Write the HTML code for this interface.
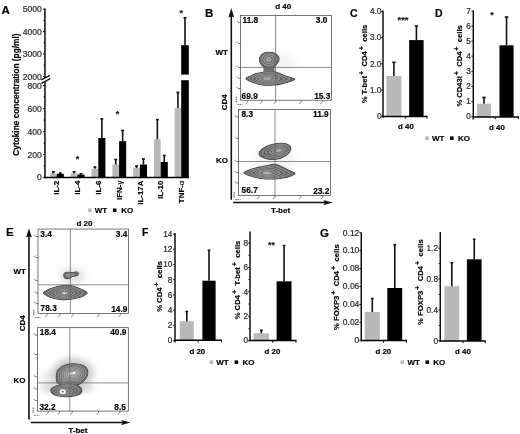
<!DOCTYPE html>
<html><head><meta charset="utf-8"><title>Figure</title>
<style>
html,body{margin:0;padding:0;background:#fff;}
body{width:520px;height:434px;overflow:hidden;font-family:"Liberation Sans",sans-serif;}
svg{display:block;font-family:"Liberation Sans",sans-serif;}
</style></head><body>
<svg width="520" height="434" viewBox="0 0 520 434">
 <defs><filter id="soft" x="0" y="0" width="520" height="434" filterUnits="userSpaceOnUse"><feGaussianBlur stdDeviation="0.2"/></filter><filter id="bl" x="-30%" y="-30%" width="160%" height="160%"><feGaussianBlur stdDeviation="3"/></filter></defs>
<rect x="0" y="0" width="520" height="434" fill="#fff"/>
<g filter="url(#soft)">
<ellipse cx="278" cy="64" rx="18" ry="11" fill="#a8a8a8" opacity="0.12" filter="url(#bl)"/>
<path d="M268.50 52.30C270.50 52.30 273.25 52.65 275.00 53.60C276.75 54.55 278.67 56.35 279.00 58.00C279.33 59.65 278.17 61.92 277.00 63.50C275.83 65.08 274.00 66.83 272.00 67.50C270.00 68.17 266.90 68.17 265.00 67.50C263.10 66.83 261.50 65.12 260.60 63.50C259.70 61.88 259.20 59.45 259.60 57.80C260.00 56.15 261.52 54.52 263.00 53.60C264.48 52.68 266.50 52.30 268.50 52.30Z" fill="#6c6c6c" stroke="#3a3a3a" stroke-width="1.1" stroke-linejoin="round"/><path d="M246.00 78.21C246.00 77.29 249.02 76.81 250.63 76.09C252.24 75.36 253.85 74.48 255.65 73.87C257.45 73.26 259.38 72.82 261.44 72.42C263.50 72.02 265.83 71.57 268.00 71.46C270.17 71.34 272.54 71.41 274.47 71.75C276.40 72.08 277.76 72.76 279.58 73.48C281.40 74.21 283.44 75.36 285.37 76.09C287.30 76.81 289.60 77.29 291.16 77.82C292.72 78.36 294.97 78.64 294.73 79.27C294.49 79.90 291.76 80.86 289.71 81.59C287.67 82.31 285.13 83.04 282.48 83.61C279.82 84.19 276.69 84.80 273.79 85.06C270.90 85.32 267.76 85.34 265.11 85.16C262.45 84.98 260.28 84.60 257.87 84.00C255.46 83.41 252.61 82.55 250.63 81.59C248.65 80.62 246.00 79.13 246.00 78.21Z" fill="#6c6c6c" stroke="#3a3a3a" stroke-width="1.1" stroke-linejoin="round"/><path d="M268.50 52.30C270.50 52.30 273.25 52.65 275.00 53.60C276.75 54.55 278.67 56.35 279.00 58.00C279.33 59.65 278.17 61.92 277.00 63.50C275.83 65.08 274.00 66.83 272.00 67.50C270.00 68.17 266.90 68.17 265.00 67.50C263.10 66.83 261.50 65.12 260.60 63.50C259.70 61.88 259.20 59.45 259.60 57.80C260.00 56.15 261.52 54.52 263.00 53.60C264.48 52.68 266.50 52.30 268.50 52.30Z" fill="#6c6c6c"/><path d="M246.00 78.21C246.00 77.29 249.02 76.81 250.63 76.09C252.24 75.36 253.85 74.48 255.65 73.87C257.45 73.26 259.38 72.82 261.44 72.42C263.50 72.02 265.83 71.57 268.00 71.46C270.17 71.34 272.54 71.41 274.47 71.75C276.40 72.08 277.76 72.76 279.58 73.48C281.40 74.21 283.44 75.36 285.37 76.09C287.30 76.81 289.60 77.29 291.16 77.82C292.72 78.36 294.97 78.64 294.73 79.27C294.49 79.90 291.76 80.86 289.71 81.59C287.67 82.31 285.13 83.04 282.48 83.61C279.82 84.19 276.69 84.80 273.79 85.06C270.90 85.32 267.76 85.34 265.11 85.16C262.45 84.98 260.28 84.60 257.87 84.00C255.46 83.41 252.61 82.55 250.63 81.59C248.65 80.62 246.00 79.13 246.00 78.21Z" fill="#6c6c6c"/><rect x="263.5" y="65" width="11" height="9" fill="#6c6c6c"/><path d="M268.52 54.07C270.02 54.07 272.09 54.34 273.40 55.05C274.71 55.76 276.15 57.11 276.40 58.35C276.65 59.59 275.77 61.29 274.90 62.48C274.02 63.66 272.65 64.97 271.15 65.47C269.65 65.97 267.32 65.97 265.90 65.47C264.47 64.97 263.28 63.69 262.60 62.48C261.93 61.26 261.55 59.44 261.85 58.20C262.15 56.96 263.29 55.74 264.40 55.05C265.51 54.36 267.02 54.07 268.52 54.07Z" fill="#808080" stroke="#b8b8b8" stroke-width="0.55"/><path d="M268.54 54.96C269.79 54.96 271.51 55.18 272.60 55.77C273.69 56.37 274.89 57.49 275.10 58.52C275.31 59.56 274.58 60.97 273.85 61.96C273.12 62.95 271.98 64.05 270.73 64.46C269.48 64.88 267.54 64.88 266.35 64.46C265.16 64.05 264.16 62.97 263.60 61.96C263.04 60.95 262.73 59.43 262.98 58.40C263.23 57.37 264.17 56.35 265.10 55.77C266.03 55.20 267.29 54.96 268.54 54.96Z" fill="none" stroke="#4a4a4a" stroke-width="0.45"/><path d="M268.55 55.85C269.55 55.85 270.93 56.02 271.80 56.50C272.68 56.98 273.63 57.88 273.80 58.70C273.97 59.53 273.38 60.66 272.80 61.45C272.22 62.24 271.30 63.12 270.30 63.45C269.30 63.78 267.75 63.78 266.80 63.45C265.85 63.12 265.05 62.26 264.60 61.45C264.15 60.64 263.90 59.42 264.10 58.60C264.30 57.77 265.06 56.96 265.80 56.50C266.54 56.04 267.55 55.85 268.55 55.85Z" fill="#808080" stroke="#b8b8b8" stroke-width="0.55"/><path d="M268.56 56.74C269.31 56.74 270.34 56.87 271.00 57.23C271.66 57.58 272.38 58.26 272.50 58.88C272.62 59.49 272.19 60.34 271.75 60.94C271.31 61.53 270.62 62.19 269.88 62.44C269.12 62.69 267.96 62.69 267.25 62.44C266.54 62.19 265.94 61.54 265.60 60.94C265.26 60.33 265.08 59.42 265.23 58.80C265.38 58.18 265.94 57.57 266.50 57.23C267.06 56.88 267.81 56.74 268.56 56.74Z" fill="none" stroke="#4a4a4a" stroke-width="0.45"/><path d="M268.58 57.62C269.08 57.62 269.76 57.71 270.20 57.95C270.64 58.19 271.12 58.64 271.20 59.05C271.28 59.46 270.99 60.03 270.70 60.42C270.41 60.82 269.95 61.26 269.45 61.42C268.95 61.59 268.18 61.59 267.70 61.42C267.23 61.26 266.83 60.83 266.60 60.42C266.38 60.02 266.25 59.41 266.35 59.00C266.45 58.59 266.83 58.18 267.20 57.95C267.57 57.72 268.08 57.62 268.58 57.62Z" fill="#999" stroke="#b8b8b8" stroke-width="0.55"/><path d="M249.04 78.27C249.01 77.46 251.23 77.01 252.60 76.39C253.97 75.76 255.64 75.03 257.27 74.53C258.90 74.04 260.61 73.72 262.38 73.43C264.14 73.13 266.06 72.84 267.85 72.76C269.65 72.69 271.50 72.74 273.14 73.00C274.77 73.25 276.03 73.71 277.66 74.28C279.29 74.85 281.34 75.81 282.92 76.43C284.50 77.04 286.05 77.50 287.14 77.95C288.24 78.41 289.71 78.63 289.49 79.14C289.26 79.66 287.38 80.46 285.79 81.07C284.19 81.67 282.12 82.30 279.93 82.78C277.74 83.26 275.07 83.74 272.66 83.95C270.24 84.16 267.69 84.18 265.46 84.05C263.23 83.92 261.38 83.66 259.27 83.19C257.16 82.71 254.48 82.02 252.78 81.20C251.07 80.38 249.07 79.07 249.04 78.27Z" fill="none" stroke="#b8b8b8" stroke-width="0.55"/><path d="M250.63 78.30C250.59 77.56 252.46 77.12 253.71 76.55C254.96 75.99 256.60 75.32 258.13 74.88C259.65 74.45 261.24 74.18 262.85 73.94C264.46 73.69 266.18 73.45 267.78 73.40C269.39 73.34 271.01 73.39 272.49 73.61C273.97 73.82 275.15 74.18 276.67 74.68C278.19 75.18 280.20 76.05 281.61 76.61C283.02 77.16 284.25 77.61 285.14 78.02C286.03 78.43 287.18 78.62 286.96 79.08C286.75 79.55 285.23 80.26 283.85 80.81C282.47 81.36 280.62 81.93 278.66 82.36C276.70 82.79 274.26 83.21 272.09 83.40C269.92 83.59 267.65 83.60 265.64 83.50C263.62 83.39 261.94 83.19 260.00 82.77C258.05 82.35 255.50 81.74 253.94 80.99C252.38 80.25 250.67 79.04 250.63 78.30Z" fill="none" stroke="#4a4a4a" stroke-width="0.45"/><path d="M252.27 78.33C252.23 77.65 253.77 77.25 254.89 76.73C256.01 76.22 257.61 75.63 259.01 75.25C260.42 74.86 261.88 74.65 263.33 74.44C264.78 74.24 266.29 74.06 267.71 74.02C269.13 73.98 270.53 74.03 271.86 74.21C273.19 74.38 274.28 74.66 275.68 75.10C277.07 75.53 279.00 76.30 280.24 76.80C281.48 77.30 282.42 77.71 283.14 78.08C283.85 78.46 284.71 78.61 284.51 79.02C284.30 79.43 283.12 80.07 281.93 80.56C280.74 81.04 279.12 81.56 277.38 81.94C275.65 82.33 273.46 82.68 271.54 82.85C269.61 83.02 267.61 83.03 265.81 82.95C264.01 82.86 262.51 82.70 260.74 82.34C258.96 81.98 256.58 81.44 255.17 80.77C253.76 80.10 252.32 79.00 252.27 78.33Z" fill="none" stroke="#b8b8b8" stroke-width="0.55"/><path d="M253.97 78.36C253.91 77.75 255.16 77.38 256.15 76.92C257.15 76.47 258.65 75.95 259.93 75.62C261.20 75.29 262.52 75.12 263.80 74.96C265.09 74.79 266.41 74.66 267.64 74.64C268.88 74.61 270.06 74.65 271.23 74.79C272.41 74.94 273.40 75.15 274.67 75.51C275.93 75.88 277.73 76.56 278.81 76.99C279.89 77.43 280.59 77.82 281.14 78.15C281.69 78.48 282.30 78.61 282.11 78.96C281.93 79.32 281.03 79.88 280.03 80.30C279.03 80.73 277.62 81.19 276.11 81.52C274.60 81.86 272.67 82.16 270.98 82.31C269.29 82.45 267.57 82.47 265.99 82.40C264.40 82.33 263.08 82.21 261.49 81.90C259.90 81.59 257.71 81.13 256.46 80.54C255.20 79.95 254.02 78.96 253.97 78.36Z" fill="none" stroke="#4a4a4a" stroke-width="0.45"/><path d="M255.71 78.39C255.66 77.86 256.63 77.52 257.49 77.13C258.36 76.73 259.75 76.29 260.88 76.01C262.01 75.73 263.17 75.60 264.28 75.47C265.40 75.34 266.52 75.25 267.58 75.24C268.63 75.22 269.61 75.25 270.62 75.37C271.63 75.49 272.52 75.63 273.64 75.94C274.76 76.24 276.41 76.82 277.33 77.20C278.24 77.58 278.73 77.93 279.14 78.21C279.55 78.50 279.95 78.60 279.79 78.91C279.62 79.21 278.97 79.69 278.14 80.05C277.32 80.42 276.12 80.82 274.84 81.11C273.55 81.39 271.88 81.64 270.43 81.77C268.98 81.89 267.52 81.90 266.16 81.85C264.80 81.80 263.65 81.72 262.26 81.46C260.87 81.20 258.90 80.81 257.81 80.29C256.72 79.78 255.76 78.92 255.71 78.39Z" fill="#808080" stroke="#b8b8b8" stroke-width="0.55"/><path d="M257.50 78.42C257.45 77.97 258.19 77.68 258.91 77.34C259.64 77.01 260.88 76.64 261.85 76.41C262.83 76.18 263.82 76.08 264.76 75.99C265.71 75.89 266.63 75.84 267.51 75.83C268.39 75.82 269.18 75.85 270.02 75.94C270.87 76.03 271.64 76.12 272.60 76.37C273.56 76.61 275.03 77.09 275.78 77.41C276.54 77.73 276.85 78.04 277.14 78.28C277.43 78.52 277.67 78.60 277.52 78.85C277.38 79.11 276.94 79.50 276.28 79.80C275.62 80.11 274.63 80.45 273.56 80.69C272.50 80.93 271.09 81.13 269.88 81.23C268.68 81.33 267.47 81.34 266.34 81.31C265.20 81.27 264.23 81.22 263.05 81.00C261.86 80.79 260.14 80.47 259.22 80.04C258.29 79.61 257.55 78.87 257.50 78.42Z" fill="none" stroke="#4a4a4a" stroke-width="0.45"/><path d="M259.34 78.46C259.29 78.09 259.83 77.84 260.41 77.57C261.00 77.30 262.06 77.00 262.86 76.82C263.67 76.65 264.48 76.57 265.25 76.50C266.01 76.44 266.75 76.41 267.45 76.41C268.14 76.40 268.75 76.42 269.44 76.49C270.12 76.56 270.76 76.61 271.55 76.80C272.34 76.99 273.58 77.38 274.18 77.63C274.78 77.89 274.96 78.15 275.15 78.34C275.34 78.54 275.45 78.60 275.33 78.80C275.21 79.00 274.93 79.31 274.43 79.56C273.92 79.80 273.14 80.08 272.29 80.27C271.44 80.46 270.30 80.62 269.34 80.70C268.38 80.78 267.42 80.79 266.51 80.76C265.59 80.74 264.82 80.71 263.85 80.54C262.88 80.38 261.44 80.12 260.69 79.77C259.94 79.43 259.39 78.82 259.34 78.46Z" fill="#808080" stroke="#b8b8b8" stroke-width="0.55"/><path d="M261.23 78.49C261.19 78.21 261.55 78.02 261.99 77.81C262.44 77.60 263.28 77.38 263.90 77.25C264.52 77.12 265.15 77.07 265.73 77.03C266.31 76.98 266.86 76.97 267.38 76.97C267.90 76.97 268.34 76.99 268.86 77.03C269.38 77.08 269.87 77.10 270.48 77.24C271.09 77.38 272.08 77.67 272.52 77.86C272.97 78.06 273.05 78.26 273.16 78.41C273.27 78.55 273.29 78.59 273.20 78.75C273.10 78.90 272.96 79.13 272.59 79.32C272.23 79.50 271.65 79.71 271.02 79.85C270.39 80.00 269.52 80.11 268.80 80.17C268.08 80.23 267.37 80.24 266.68 80.22C265.99 80.20 265.40 80.19 264.66 80.07C263.92 79.95 262.80 79.76 262.23 79.50C261.66 79.23 261.27 78.77 261.23 78.49Z" fill="none" stroke="#4a4a4a" stroke-width="0.45"/><path d="M263.21 78.53C263.18 78.34 263.41 78.21 263.71 78.07C264.01 77.93 264.58 77.78 264.99 77.70C265.41 77.61 265.83 77.58 266.22 77.55C266.61 77.52 266.97 77.52 267.32 77.52C267.67 77.52 267.96 77.53 268.30 77.56C268.65 77.59 268.98 77.60 269.39 77.69C269.80 77.79 270.47 77.98 270.76 78.11C271.06 78.24 271.10 78.37 271.17 78.47C271.24 78.57 271.25 78.60 271.18 78.70C271.12 78.80 271.03 78.95 270.79 79.08C270.55 79.20 270.17 79.34 269.75 79.44C269.32 79.53 268.75 79.60 268.26 79.64C267.78 79.68 267.32 79.69 266.86 79.68C266.40 79.67 266.00 79.66 265.50 79.58C265.01 79.50 264.25 79.38 263.87 79.20C263.49 79.02 263.24 78.71 263.21 78.53Z" fill="#a5a5a5" stroke="#b8b8b8" stroke-width="0.55"/>
<ellipse cx="276" cy="160" rx="20" ry="12" fill="#a8a8a8" opacity="0.15" filter="url(#bl)"/>
<path d="M259.20 154.20C258.87 152.57 260.87 150.10 263.00 148.50C265.13 146.90 268.87 145.48 272.00 144.60C275.13 143.72 279.05 143.13 281.80 143.20C284.55 143.27 287.03 143.93 288.50 145.00C289.97 146.07 291.02 147.85 290.60 149.60C290.18 151.35 288.55 153.88 286.00 155.50C283.45 157.12 278.80 158.83 275.30 159.30C271.80 159.77 267.68 159.15 265.00 158.30C262.32 157.45 259.53 155.83 259.20 154.20Z" fill="#6c6c6c" stroke="#3a3a3a" stroke-width="1.1" stroke-linejoin="round"/><path d="M243.97 172.69C244.10 171.90 246.79 171.10 248.60 170.38C250.42 169.65 252.54 168.99 254.88 168.35C257.21 167.71 260.14 167.08 262.60 166.52C265.06 165.95 267.69 165.36 269.64 164.97C271.59 164.59 272.71 164.12 274.27 164.20C275.83 164.28 277.31 164.81 279.00 165.46C280.69 166.10 282.46 167.11 284.40 168.06C286.35 169.01 288.91 170.25 290.68 171.15C292.45 172.05 295.02 172.68 295.02 173.47C295.02 174.25 292.70 175.14 290.68 175.88C288.65 176.62 285.72 177.39 282.86 177.90C280.00 178.42 276.62 178.84 273.50 178.97C270.38 179.09 267.24 178.98 264.14 178.68C261.04 178.37 257.59 177.73 254.88 177.13C252.16 176.54 249.65 175.85 247.83 175.11C246.01 174.37 243.84 173.48 243.97 172.69Z" fill="#6c6c6c" stroke="#3a3a3a" stroke-width="1.1" stroke-linejoin="round"/><path d="M259.20 154.20C258.87 152.57 260.87 150.10 263.00 148.50C265.13 146.90 268.87 145.48 272.00 144.60C275.13 143.72 279.05 143.13 281.80 143.20C284.55 143.27 287.03 143.93 288.50 145.00C289.97 146.07 291.02 147.85 290.60 149.60C290.18 151.35 288.55 153.88 286.00 155.50C283.45 157.12 278.80 158.83 275.30 159.30C271.80 159.77 267.68 159.15 265.00 158.30C262.32 157.45 259.53 155.83 259.20 154.20Z" fill="#6c6c6c"/><path d="M243.97 172.69C244.10 171.90 246.79 171.10 248.60 170.38C250.42 169.65 252.54 168.99 254.88 168.35C257.21 167.71 260.14 167.08 262.60 166.52C265.06 165.95 267.69 165.36 269.64 164.97C271.59 164.59 272.71 164.12 274.27 164.20C275.83 164.28 277.31 164.81 279.00 165.46C280.69 166.10 282.46 167.11 284.40 168.06C286.35 169.01 288.91 170.25 290.68 171.15C292.45 172.05 295.02 172.68 295.02 173.47C295.02 174.25 292.70 175.14 290.68 175.88C288.65 176.62 285.72 177.39 282.86 177.90C280.00 178.42 276.62 178.84 273.50 178.97C270.38 179.09 267.24 178.98 264.14 178.68C261.04 178.37 257.59 177.73 254.88 177.13C252.16 176.54 249.65 175.85 247.83 175.11C246.01 174.37 243.84 173.48 243.97 172.69Z" fill="#6c6c6c"/><path d="M262.58 153.57C262.31 152.21 263.97 150.15 265.75 148.82C267.53 147.48 270.64 146.30 273.25 145.57C275.86 144.83 279.12 144.34 281.42 144.40C283.71 144.46 285.78 145.01 287.00 145.90C288.22 146.79 289.10 148.27 288.75 149.73C288.40 151.19 287.04 153.30 284.92 154.65C282.79 156.00 278.92 157.43 276.00 157.82C273.08 158.21 269.65 157.69 267.42 156.98C265.18 156.28 262.86 154.93 262.58 153.57Z" fill="none" stroke="#b8b8b8" stroke-width="0.55"/><path d="M264.27 153.25C264.02 152.03 265.52 150.17 267.12 148.97C268.73 147.78 271.52 146.71 273.88 146.05C276.23 145.39 279.16 144.95 281.23 145.00C283.29 145.05 285.15 145.55 286.25 146.35C287.35 147.15 288.14 148.49 287.83 149.80C287.51 151.11 286.29 153.01 284.38 154.22C282.46 155.44 278.98 156.73 276.35 157.08C273.73 157.43 270.64 156.96 268.62 156.33C266.61 155.69 264.52 154.47 264.27 153.25Z" fill="none" stroke="#4a4a4a" stroke-width="0.45"/><path d="M265.97 152.93C265.74 151.84 267.08 150.20 268.50 149.13C269.92 148.07 272.41 147.12 274.50 146.53C276.59 145.94 279.20 145.56 281.03 145.60C282.87 145.64 284.52 146.09 285.50 146.80C286.48 147.51 287.18 148.70 286.90 149.87C286.62 151.03 285.53 152.72 283.83 153.80C282.13 154.88 279.03 156.02 276.70 156.33C274.37 156.64 271.62 156.23 269.83 155.67C268.04 155.10 266.19 154.02 265.97 152.93Z" fill="none" stroke="#b8b8b8" stroke-width="0.55"/><path d="M267.66 152.62C267.46 151.66 268.63 150.22 269.88 149.29C271.12 148.36 273.30 147.53 275.12 147.02C276.95 146.50 279.24 146.16 280.84 146.20C282.45 146.24 283.89 146.63 284.75 147.25C285.61 147.87 286.22 148.91 285.98 149.93C285.73 150.95 284.78 152.43 283.29 153.38C281.80 154.32 279.09 155.32 277.05 155.59C275.01 155.86 272.61 155.50 271.04 155.01C269.48 154.51 267.85 153.57 267.66 152.62Z" fill="none" stroke="#4a4a4a" stroke-width="0.45"/><path d="M269.35 152.30C269.18 151.48 270.18 150.25 271.25 149.45C272.32 148.65 274.18 147.94 275.75 147.50C277.32 147.06 279.27 146.77 280.65 146.80C282.02 146.83 283.27 147.17 284.00 147.70C284.73 148.23 285.26 149.12 285.05 150.00C284.84 150.88 284.02 152.14 282.75 152.95C281.48 153.76 279.15 154.62 277.40 154.85C275.65 155.08 273.59 154.78 272.25 154.35C270.91 153.93 269.52 153.12 269.35 152.30Z" fill="#808080" stroke="#b8b8b8" stroke-width="0.55"/><path d="M271.04 151.98C270.90 151.30 271.74 150.28 272.62 149.61C273.51 148.94 275.07 148.35 276.38 147.98C277.68 147.62 279.31 147.37 280.46 147.40C281.60 147.43 282.64 147.71 283.25 148.15C283.86 148.59 284.30 149.34 284.12 150.07C283.95 150.80 283.27 151.85 282.21 152.53C281.15 153.20 279.21 153.91 277.75 154.11C276.29 154.30 274.58 154.05 273.46 153.69C272.34 153.34 271.18 152.66 271.04 151.98Z" fill="none" stroke="#4a4a4a" stroke-width="0.45"/><path d="M272.73 151.67C272.62 151.12 273.29 150.30 274.00 149.77C274.71 149.23 275.96 148.76 277.00 148.47C278.04 148.17 279.35 147.98 280.27 148.00C281.18 148.02 282.01 148.24 282.50 148.60C282.99 148.96 283.34 149.55 283.20 150.13C283.06 150.72 282.52 151.56 281.67 152.10C280.82 152.64 279.27 153.21 278.10 153.37C276.93 153.52 275.56 153.32 274.67 153.03C273.77 152.75 272.84 152.21 272.73 151.67Z" fill="#808080" stroke="#b8b8b8" stroke-width="0.55"/><path d="M274.43 151.35C274.34 150.94 274.84 150.33 275.38 149.93C275.91 149.53 276.84 149.17 277.62 148.95C278.41 148.73 279.39 148.58 280.07 148.60C280.76 148.62 281.38 148.78 281.75 149.05C282.12 149.32 282.38 149.76 282.27 150.20C282.17 150.64 281.76 151.27 281.12 151.68C280.49 152.08 279.32 152.51 278.45 152.62C277.57 152.74 276.55 152.59 275.88 152.38C275.20 152.16 274.51 151.76 274.43 151.35Z" fill="none" stroke="#4a4a4a" stroke-width="0.45"/><path d="M276.12 151.03C276.06 150.76 276.39 150.35 276.75 150.08C277.11 149.82 277.73 149.58 278.25 149.43C278.77 149.29 279.43 149.19 279.88 149.20C280.34 149.21 280.76 149.32 281.00 149.50C281.24 149.68 281.42 149.98 281.35 150.27C281.28 150.56 281.01 150.98 280.58 151.25C280.16 151.52 279.38 151.81 278.80 151.88C278.22 151.96 277.53 151.86 277.08 151.72C276.64 151.57 276.17 151.31 276.12 151.03Z" fill="#a5a5a5" stroke="#b8b8b8" stroke-width="0.55"/><path d="M247.56 172.74C247.68 172.06 249.57 171.35 251.06 170.72C252.55 170.09 254.44 169.48 256.49 168.95C258.53 168.42 261.21 167.94 263.33 167.53C265.45 167.12 267.61 166.75 269.20 166.50C270.78 166.25 271.57 165.95 272.83 166.02C274.09 166.09 275.27 166.44 276.74 166.92C278.20 167.39 279.91 168.11 281.61 168.87C283.30 169.62 285.52 170.70 286.90 171.45C288.29 172.20 289.94 172.72 289.90 173.38C289.87 174.04 288.27 174.76 286.69 175.39C285.12 176.01 282.80 176.69 280.46 177.15C278.11 177.60 275.26 177.97 272.61 178.11C269.96 178.24 267.26 178.19 264.54 177.95C261.82 177.71 258.64 177.18 256.28 176.66C253.92 176.14 251.83 175.48 250.38 174.83C248.93 174.18 247.45 173.42 247.56 172.74Z" fill="none" stroke="#b8b8b8" stroke-width="0.55"/><path d="M249.40 172.76C249.51 172.14 251.06 171.49 252.39 170.91C253.71 170.33 255.47 169.76 257.36 169.28C259.25 168.80 261.77 168.39 263.71 168.05C265.64 167.71 267.57 167.43 268.98 167.24C270.39 167.04 271.04 166.82 272.15 166.88C273.26 166.94 274.31 167.22 275.65 167.62C276.99 168.01 278.64 168.61 280.20 169.27C281.76 169.94 283.80 170.92 285.00 171.60C286.20 172.28 287.46 172.75 287.42 173.34C287.37 173.93 286.08 174.57 284.71 175.14C283.35 175.71 281.32 176.34 279.23 176.76C277.13 177.18 274.55 177.52 272.14 177.66C269.73 177.79 267.27 177.77 264.76 177.56C262.25 177.35 259.25 176.88 257.09 176.40C254.92 175.92 253.04 175.29 251.76 174.68C250.48 174.08 249.30 173.39 249.40 172.76Z" fill="none" stroke="#4a4a4a" stroke-width="0.45"/><path d="M251.27 172.79C251.37 172.22 252.61 171.63 253.78 171.10C254.95 170.58 256.56 170.05 258.28 169.62C260.00 169.20 262.34 168.85 264.09 168.57C265.83 168.29 267.54 168.10 268.77 167.95C270.01 167.81 270.53 167.64 271.50 167.70C272.47 167.76 273.38 167.96 274.60 168.29C275.81 168.63 277.38 169.11 278.79 169.68C280.20 170.26 282.05 171.15 283.08 171.75C284.11 172.35 285.04 172.77 284.98 173.30C284.92 173.82 283.91 174.39 282.74 174.90C281.58 175.41 279.82 175.98 277.98 176.36C276.13 176.75 273.82 177.07 271.66 177.20C269.50 177.32 267.28 177.32 264.99 177.14C262.71 176.96 259.92 176.54 257.96 176.11C255.99 175.67 254.32 175.08 253.21 174.52C252.09 173.97 251.18 173.36 251.27 172.79Z" fill="none" stroke="#b8b8b8" stroke-width="0.55"/><path d="M253.17 172.81C253.26 172.31 254.23 171.78 255.24 171.31C256.25 170.84 257.71 170.35 259.25 169.99C260.78 169.62 262.92 169.32 264.47 169.10C266.02 168.88 267.50 168.75 268.57 168.65C269.64 168.55 270.04 168.44 270.88 168.49C271.71 168.54 272.49 168.69 273.57 168.95C274.66 169.22 276.11 169.60 277.37 170.09C278.64 170.58 280.28 171.38 281.15 171.90C282.02 172.43 282.66 172.80 282.60 173.26C282.53 173.72 281.76 174.21 280.78 174.66C279.80 175.11 278.31 175.62 276.71 175.96C275.10 176.31 273.08 176.60 271.17 176.72C269.25 176.84 267.28 176.86 265.24 176.70C263.19 176.55 260.64 176.19 258.89 175.80C257.14 175.41 255.68 174.86 254.73 174.36C253.77 173.86 253.09 173.32 253.17 172.81Z" fill="none" stroke="#4a4a4a" stroke-width="0.45"/><path d="M255.10 172.84C255.18 172.40 255.90 171.93 256.76 171.52C257.62 171.11 258.91 170.68 260.26 170.36C261.61 170.05 263.51 169.81 264.86 169.64C266.21 169.46 267.47 169.39 268.37 169.33C269.27 169.26 269.58 169.19 270.28 169.24C270.98 169.28 271.64 169.38 272.58 169.59C273.53 169.80 274.85 170.09 275.95 170.50C277.05 170.91 278.49 171.60 279.21 172.06C279.93 172.51 280.32 172.82 280.26 173.22C280.20 173.61 279.64 174.03 278.83 174.42C278.02 174.81 276.78 175.26 275.42 175.56C274.06 175.86 272.31 176.11 270.66 176.23C269.00 176.34 267.29 176.37 265.50 176.24C263.70 176.11 261.42 175.81 259.89 175.46C258.36 175.12 257.11 174.63 256.31 174.19C255.52 173.75 255.03 173.28 255.10 172.84Z" fill="#808080" stroke="#b8b8b8" stroke-width="0.55"/><path d="M257.06 172.87C257.12 172.49 257.65 172.10 258.35 171.75C259.06 171.39 260.17 171.02 261.32 170.76C262.47 170.50 264.11 170.31 265.25 170.18C266.40 170.05 267.44 170.02 268.18 169.99C268.92 169.95 269.14 169.92 269.71 169.95C270.29 169.99 270.82 170.05 271.62 170.21C272.43 170.37 273.58 170.58 274.52 170.91C275.46 171.25 276.68 171.83 277.26 172.21C277.83 172.59 278.04 172.85 277.98 173.18C277.91 173.51 277.53 173.85 276.89 174.18C276.24 174.51 275.24 174.89 274.11 175.15C272.99 175.40 271.52 175.62 270.13 175.72C268.74 175.83 267.29 175.86 265.77 175.76C264.24 175.65 262.26 175.40 260.96 175.11C259.66 174.82 258.62 174.38 257.97 174.01C257.32 173.64 257.00 173.24 257.06 172.87Z" fill="none" stroke="#4a4a4a" stroke-width="0.45"/><path d="M259.05 172.89C259.10 172.58 259.45 172.26 260.01 171.98C260.57 171.69 261.48 171.38 262.42 171.17C263.36 170.97 264.72 170.82 265.65 170.73C266.58 170.64 267.40 170.64 267.99 170.63C268.58 170.61 268.72 170.60 269.17 170.63C269.63 170.67 270.04 170.69 270.70 170.81C271.35 170.93 272.32 171.07 273.09 171.33C273.85 171.59 274.85 172.07 275.29 172.37C275.73 172.67 275.80 172.88 275.74 173.14C275.68 173.40 275.44 173.68 274.95 173.94C274.46 174.21 273.68 174.52 272.79 174.73C271.90 174.94 270.72 175.12 269.59 175.21C268.47 175.29 267.30 175.33 266.05 175.25C264.80 175.17 263.15 174.97 262.10 174.73C261.04 174.49 260.21 174.13 259.70 173.82C259.19 173.52 259.00 173.20 259.05 172.89Z" fill="#808080" stroke="#b8b8b8" stroke-width="0.55"/><path d="M261.07 172.92C261.11 172.68 261.32 172.44 261.74 172.22C262.15 172.00 262.85 171.76 263.57 171.60C264.29 171.45 265.35 171.35 266.06 171.29C266.76 171.23 267.38 171.25 267.81 171.25C268.24 171.25 268.33 171.26 268.66 171.28C269.00 171.30 269.30 171.31 269.80 171.39C270.30 171.47 271.06 171.55 271.65 171.74C272.23 171.93 272.99 172.30 273.31 172.52C273.63 172.75 273.60 172.91 273.56 173.10C273.51 173.30 273.38 173.50 273.02 173.70C272.67 173.90 272.11 174.14 271.44 174.31C270.78 174.47 269.89 174.61 269.04 174.68C268.19 174.74 267.30 174.78 266.34 174.72C265.38 174.66 264.11 174.51 263.30 174.33C262.49 174.15 261.87 173.86 261.49 173.63C261.12 173.39 261.03 173.15 261.07 172.92Z" fill="none" stroke="#4a4a4a" stroke-width="0.45"/><path d="M263.14 172.95C263.16 172.79 263.30 172.62 263.57 172.48C263.85 172.33 264.32 172.17 264.80 172.07C265.29 171.96 266.00 171.89 266.47 171.86C266.94 171.82 267.35 171.84 267.64 171.84C267.93 171.84 267.98 171.85 268.20 171.86C268.42 171.88 268.63 171.88 268.96 171.93C269.29 171.98 269.81 172.04 270.20 172.16C270.59 172.29 271.10 172.53 271.31 172.68C271.52 172.83 271.49 172.94 271.46 173.07C271.43 173.20 271.35 173.34 271.11 173.47C270.88 173.60 270.51 173.76 270.07 173.87C269.63 173.98 269.03 174.07 268.46 174.12C267.90 174.17 267.30 174.19 266.66 174.15C266.02 174.11 265.16 174.01 264.62 173.89C264.08 173.77 263.66 173.58 263.41 173.42C263.17 173.26 263.11 173.10 263.14 172.95Z" fill="#b0b0b0" stroke="#b8b8b8" stroke-width="0.55"/>
<ellipse cx="72" cy="276" rx="13" ry="9" fill="#a8a8a8" opacity="0.3" filter="url(#bl)"/>
<path d="M63.75 275.47C63.67 274.56 64.27 273.38 65.10 272.86C65.92 272.34 67.42 272.35 68.70 272.32C69.98 272.29 71.47 272.74 72.75 272.68C74.03 272.62 75.42 271.84 76.35 271.96C77.28 272.08 78.18 272.80 78.33 273.40C78.48 274.00 78.25 275.05 77.25 275.56C76.25 276.07 73.65 276.01 72.30 276.46C70.95 276.91 70.28 277.94 69.15 278.26C68.03 278.57 66.45 278.81 65.55 278.35C64.65 277.88 63.83 276.38 63.75 275.47Z" fill="#6c6c6c" stroke="#3a3a3a" stroke-width="1.1" stroke-linejoin="round"/><path d="M43.47 292.90C43.56 292.17 45.39 291.38 46.67 290.67C47.94 289.95 49.45 289.28 51.13 288.63C52.81 287.98 54.70 287.29 56.76 286.79C58.81 286.28 61.04 285.78 63.45 285.62C65.86 285.46 68.98 285.51 71.21 285.82C73.44 286.12 74.96 286.79 76.83 287.47C78.71 288.14 80.75 288.98 82.46 289.89C84.17 290.80 86.94 291.93 87.12 292.90C87.29 293.87 85.24 294.85 83.53 295.71C81.81 296.57 79.06 297.44 76.83 298.04C74.60 298.64 72.57 299.04 70.14 299.30C67.72 299.56 64.71 299.67 62.28 299.59C59.86 299.51 57.64 299.23 55.59 298.81C53.54 298.39 51.55 297.70 49.97 297.07C48.38 296.44 47.17 295.73 46.09 295.03C45.00 294.34 43.37 293.62 43.47 292.90Z" fill="#6c6c6c" stroke="#3a3a3a" stroke-width="1.1" stroke-linejoin="round"/><path d="M63.75 275.47C63.67 274.56 64.27 273.38 65.10 272.86C65.92 272.34 67.42 272.35 68.70 272.32C69.98 272.29 71.47 272.74 72.75 272.68C74.03 272.62 75.42 271.84 76.35 271.96C77.28 272.08 78.18 272.80 78.33 273.40C78.48 274.00 78.25 275.05 77.25 275.56C76.25 276.07 73.65 276.01 72.30 276.46C70.95 276.91 70.28 277.94 69.15 278.26C68.03 278.57 66.45 278.81 65.55 278.35C64.65 277.88 63.83 276.38 63.75 275.47Z" fill="#6c6c6c"/><path d="M43.47 292.90C43.56 292.17 45.39 291.38 46.67 290.67C47.94 289.95 49.45 289.28 51.13 288.63C52.81 287.98 54.70 287.29 56.76 286.79C58.81 286.28 61.04 285.78 63.45 285.62C65.86 285.46 68.98 285.51 71.21 285.82C73.44 286.12 74.96 286.79 76.83 287.47C78.71 288.14 80.75 288.98 82.46 289.89C84.17 290.80 86.94 291.93 87.12 292.90C87.29 293.87 85.24 294.85 83.53 295.71C81.81 296.57 79.06 297.44 76.83 298.04C74.60 298.64 72.57 299.04 70.14 299.30C67.72 299.56 64.71 299.67 62.28 299.59C59.86 299.51 57.64 299.23 55.59 298.81C53.54 298.39 51.55 297.70 49.97 297.07C48.38 296.44 47.17 295.73 46.09 295.03C45.00 294.34 43.37 293.62 43.47 292.90Z" fill="#6c6c6c"/><path d="M66.38 275.38C66.34 274.93 66.64 274.34 67.05 274.08C67.46 273.82 68.21 273.82 68.85 273.81C69.49 273.80 70.24 274.02 70.88 273.99C71.51 273.96 72.21 273.57 72.67 273.63C73.14 273.69 73.59 274.05 73.66 274.35C73.74 274.65 73.63 275.18 73.12 275.43C72.62 275.69 71.33 275.65 70.65 275.88C69.98 276.11 69.64 276.62 69.08 276.78C68.51 276.94 67.73 277.06 67.28 276.82C66.83 276.59 66.41 275.84 66.38 275.38Z" fill="#858585" stroke="#b8b8b8" stroke-width="0.55"/><path d="M47.12 292.91C47.20 292.30 48.45 291.64 49.44 291.03C50.44 290.43 51.68 289.82 53.11 289.28C54.53 288.74 56.23 288.18 57.98 287.78C59.73 287.39 61.62 287.03 63.62 286.92C65.62 286.81 68.13 286.87 69.98 287.11C71.84 287.36 73.17 287.84 74.75 288.39C76.32 288.94 78.08 289.66 79.43 290.41C80.78 291.17 82.71 292.11 82.84 292.92C82.97 293.72 81.56 294.52 80.23 295.24C78.91 295.96 76.71 296.73 74.88 297.25C73.05 297.76 71.29 298.10 69.25 298.32C67.20 298.53 64.66 298.63 62.62 298.56C60.57 298.49 58.70 298.26 56.96 297.91C55.22 297.56 53.49 296.98 52.16 296.45C50.84 295.91 49.84 295.30 49.00 294.71C48.16 294.12 47.05 293.53 47.12 292.91Z" fill="none" stroke="#b8b8b8" stroke-width="0.55"/><path d="M48.93 292.92C48.99 292.37 49.99 291.77 50.86 291.22C51.73 290.67 52.84 290.11 54.13 289.62C55.42 289.13 57.01 288.63 58.60 288.29C60.20 287.94 61.90 287.65 63.70 287.56C65.49 287.47 67.71 287.53 69.38 287.74C71.05 287.96 72.29 288.37 73.71 288.86C75.13 289.34 76.74 289.99 77.92 290.67C79.09 291.35 80.66 292.20 80.77 292.93C80.89 293.65 79.75 294.36 78.60 295.01C77.45 295.66 75.52 296.37 73.88 296.84C72.25 297.31 70.64 297.62 68.79 297.81C66.94 298.01 64.64 298.09 62.78 298.03C60.93 297.97 59.24 297.77 57.66 297.45C56.07 297.13 54.49 296.61 53.30 296.13C52.10 295.64 51.21 295.08 50.48 294.54C49.75 294.01 48.86 293.48 48.93 292.92Z" fill="none" stroke="#4a4a4a" stroke-width="0.45"/><path d="M50.71 292.93C50.77 292.44 51.55 291.90 52.29 291.41C53.04 290.91 54.02 290.40 55.18 289.96C56.33 289.53 57.79 289.09 59.23 288.80C60.66 288.50 62.19 288.26 63.78 288.19C65.37 288.12 67.31 288.18 68.79 288.37C70.27 288.55 71.40 288.89 72.67 289.32C73.94 289.75 75.39 290.33 76.41 290.93C77.42 291.53 78.66 292.29 78.76 292.93C78.85 293.58 77.96 294.20 76.98 294.78C76.00 295.37 74.32 296.01 72.87 296.43C71.43 296.85 69.98 297.13 68.32 297.31C66.67 297.48 64.62 297.55 62.96 297.50C61.30 297.45 59.78 297.27 58.37 296.98C56.95 296.70 55.51 296.24 54.45 295.81C53.38 295.37 52.60 294.86 51.97 294.38C51.35 293.90 50.66 293.43 50.71 292.93Z" fill="none" stroke="#b8b8b8" stroke-width="0.55"/><path d="M52.48 292.94C52.53 292.51 53.12 292.04 53.74 291.60C54.37 291.16 55.23 290.70 56.25 290.32C57.27 289.93 58.59 289.56 59.86 289.31C61.13 289.06 62.47 288.87 63.86 288.82C65.25 288.76 66.91 288.82 68.21 288.98C69.50 289.14 70.52 289.41 71.63 289.78C72.75 290.15 74.04 290.66 74.90 291.19C75.76 291.72 76.71 292.38 76.79 292.94C76.87 293.50 76.19 294.04 75.37 294.55C74.55 295.07 73.11 295.65 71.86 296.02C70.60 296.39 69.31 296.63 67.86 296.79C66.40 296.95 64.59 297.01 63.13 296.96C61.67 296.91 60.34 296.76 59.08 296.51C57.83 296.26 56.55 295.86 55.62 295.47C54.68 295.09 54.00 294.63 53.48 294.21C52.96 293.79 52.44 293.38 52.48 292.94Z" fill="none" stroke="#4a4a4a" stroke-width="0.45"/><path d="M54.24 292.95C54.27 292.57 54.69 292.17 55.21 291.79C55.73 291.41 56.46 291.00 57.34 290.68C58.22 290.35 59.39 290.03 60.49 289.82C61.59 289.62 62.75 289.48 63.94 289.44C65.13 289.40 66.53 289.45 67.64 289.58C68.75 289.72 69.63 289.93 70.59 290.24C71.55 290.55 72.68 291.00 73.39 291.45C74.11 291.90 74.81 292.47 74.87 292.95C74.94 293.43 74.45 293.89 73.77 294.33C73.10 294.77 71.89 295.28 70.82 295.60C69.76 295.93 68.63 296.13 67.38 296.27C66.13 296.40 64.56 296.45 63.30 296.41C62.04 296.37 60.90 296.24 59.81 296.03C58.73 295.81 57.61 295.47 56.81 295.14C56.01 294.81 55.43 294.41 55.00 294.04C54.57 293.68 54.20 293.33 54.24 292.95Z" fill="#808080" stroke="#b8b8b8" stroke-width="0.55"/><path d="M55.97 292.96C56.00 292.64 56.28 292.31 56.70 291.99C57.11 291.67 57.72 291.32 58.46 291.04C59.20 290.77 60.20 290.51 61.13 290.34C62.06 290.18 63.03 290.08 64.02 290.05C65.01 290.02 66.15 290.07 67.07 290.18C68.00 290.29 68.76 290.45 69.56 290.70C70.36 290.96 71.31 291.33 71.89 291.71C72.46 292.09 72.96 292.56 73.01 292.96C73.06 293.36 72.72 293.73 72.18 294.10C71.65 294.47 70.66 294.91 69.78 295.18C68.90 295.45 67.95 295.63 66.90 295.74C65.85 295.85 64.54 295.90 63.48 295.86C62.42 295.83 61.46 295.72 60.55 295.54C59.64 295.36 58.69 295.07 58.02 294.80C57.35 294.52 56.87 294.18 56.53 293.87C56.19 293.57 55.95 293.27 55.97 292.96Z" fill="none" stroke="#4a4a4a" stroke-width="0.45"/><path d="M57.69 292.97C57.71 292.71 57.89 292.44 58.20 292.18C58.52 291.93 59.01 291.64 59.60 291.42C60.20 291.20 61.03 290.99 61.78 290.87C62.52 290.74 63.31 290.67 64.10 290.65C64.89 290.63 65.78 290.68 66.52 290.76C67.26 290.85 67.88 290.96 68.52 291.16C69.17 291.37 69.94 291.67 70.39 291.97C70.83 292.27 71.15 292.65 71.19 292.97C71.22 293.29 71.02 293.58 70.61 293.88C70.20 294.18 69.43 294.53 68.73 294.75C68.03 294.98 67.26 295.12 66.41 295.21C65.57 295.30 64.51 295.33 63.66 295.30C62.81 295.28 62.04 295.19 61.30 295.04C60.57 294.90 59.80 294.67 59.26 294.45C58.72 294.23 58.34 293.95 58.08 293.70C57.82 293.45 57.67 293.22 57.69 292.97Z" fill="#808080" stroke="#b8b8b8" stroke-width="0.55"/><path d="M59.39 292.98C59.41 292.78 59.50 292.58 59.73 292.38C59.95 292.19 60.32 291.97 60.77 291.80C61.22 291.64 61.86 291.49 62.42 291.39C62.99 291.30 63.58 291.26 64.17 291.25C64.77 291.24 65.42 291.27 65.98 291.34C66.53 291.40 67.01 291.48 67.49 291.62C67.98 291.77 68.57 292.00 68.89 292.23C69.21 292.45 69.39 292.74 69.42 292.98C69.44 293.22 69.33 293.43 69.04 293.66C68.75 293.88 68.18 294.15 67.66 294.32C67.14 294.49 66.55 294.60 65.92 294.66C65.28 294.73 64.49 294.76 63.84 294.74C63.20 294.72 62.62 294.65 62.06 294.54C61.51 294.44 60.92 294.26 60.51 294.10C60.11 293.93 59.82 293.71 59.64 293.53C59.45 293.34 59.38 293.17 59.39 292.98Z" fill="none" stroke="#4a4a4a" stroke-width="0.45"/><path d="M61.07 292.98C61.08 292.86 61.13 292.72 61.28 292.59C61.43 292.46 61.67 292.31 61.97 292.20C62.27 292.09 62.70 291.99 63.08 291.93C63.46 291.87 63.85 291.84 64.25 291.83C64.64 291.83 65.08 291.85 65.45 291.89C65.82 291.93 66.14 291.98 66.46 292.08C66.78 292.18 67.18 292.33 67.39 292.48C67.60 292.64 67.72 292.83 67.73 292.98C67.75 293.14 67.68 293.29 67.49 293.44C67.30 293.59 66.93 293.77 66.58 293.88C66.23 294.00 65.84 294.07 65.41 294.11C64.99 294.16 64.46 294.17 64.03 294.16C63.60 294.15 63.21 294.10 62.84 294.03C62.47 293.96 62.07 293.84 61.80 293.73C61.53 293.62 61.35 293.48 61.22 293.35C61.10 293.23 61.06 293.11 61.07 292.98Z" fill="#9c9c9c" stroke="#b8b8b8" stroke-width="0.55"/><ellipse cx="64.3" cy="293.3" rx="1.2" ry="0.8" fill="#fff"/>
<ellipse cx="73" cy="373" rx="21" ry="15" fill="#a8a8a8" opacity="0.6" filter="url(#bl)"/>
<ellipse cx="67" cy="388" rx="27" ry="5" fill="#a8a8a8" opacity="0.5" filter="url(#bl)"/>
<ellipse cx="50" cy="378" rx="9" ry="7" fill="#a8a8a8" opacity="0.25" filter="url(#bl)"/>
<path d="M56.30 377.00C56.38 374.75 56.68 371.53 58.30 369.50C59.92 367.47 63.05 365.72 66.00 364.80C68.95 363.88 72.83 363.70 76.00 364.00C79.17 364.30 83.03 365.18 85.00 366.60C86.97 368.02 87.80 370.35 87.80 372.50C87.80 374.65 86.63 377.48 85.00 379.50C83.37 381.52 81.50 383.65 78.00 384.60C74.50 385.55 67.37 385.47 64.00 385.20C60.63 384.93 59.08 384.37 57.80 383.00C56.52 381.63 56.22 379.25 56.30 377.00Z" fill="#6c6c6c" stroke="#3a3a3a" stroke-width="1.1" stroke-linejoin="round"/><path d="M50.80 390.80C50.47 389.30 52.80 387.63 55.00 386.60C57.20 385.57 60.50 384.87 64.00 384.60C67.50 384.33 73.03 384.10 76.00 385.00C78.97 385.90 81.47 388.37 81.80 390.00C82.13 391.63 80.30 393.70 78.00 394.80C75.70 395.90 71.50 396.47 68.00 396.60C64.50 396.73 59.87 396.57 57.00 395.60C54.13 394.63 51.13 392.30 50.80 390.80Z" fill="#6c6c6c" stroke="#3a3a3a" stroke-width="1.1" stroke-linejoin="round"/><path d="M56.30 377.00C56.38 374.75 56.68 371.53 58.30 369.50C59.92 367.47 63.05 365.72 66.00 364.80C68.95 363.88 72.83 363.70 76.00 364.00C79.17 364.30 83.03 365.18 85.00 366.60C86.97 368.02 87.80 370.35 87.80 372.50C87.80 374.65 86.63 377.48 85.00 379.50C83.37 381.52 81.50 383.65 78.00 384.60C74.50 385.55 67.37 385.47 64.00 385.20C60.63 384.93 59.08 384.37 57.80 383.00C56.52 381.63 56.22 379.25 56.30 377.00Z" fill="#6c6c6c"/><path d="M50.80 390.80C50.47 389.30 52.80 387.63 55.00 386.60C57.20 385.57 60.50 384.87 64.00 384.60C67.50 384.33 73.03 384.10 76.00 385.00C78.97 385.90 81.47 388.37 81.80 390.00C82.13 391.63 80.30 393.70 78.00 394.80C75.70 395.90 71.50 396.47 68.00 396.60C64.50 396.73 59.87 396.57 57.00 395.60C54.13 394.63 51.13 392.30 50.80 390.80Z" fill="#6c6c6c"/><path d="M58.32 376.55C58.40 374.58 58.66 371.77 60.07 369.99C61.49 368.21 64.23 366.68 66.81 365.88C69.39 365.07 72.79 364.91 75.56 365.18C78.33 365.44 81.72 366.21 83.44 367.45C85.16 368.69 85.89 370.73 85.89 372.61C85.89 374.49 84.87 376.97 83.44 378.74C82.01 380.50 80.38 382.37 77.31 383.20C74.25 384.03 68.01 383.96 65.06 383.72C62.12 383.49 60.76 383.00 59.64 381.80C58.51 380.60 58.25 378.52 58.32 376.55Z" fill="#797979" stroke="#b8b8b8" stroke-width="0.55"/><path d="M59.34 376.32C59.41 374.50 59.65 371.88 60.96 370.23C62.28 368.58 64.82 367.16 67.22 366.41C69.62 365.67 72.77 365.52 75.34 365.76C77.92 366.01 81.06 366.72 82.66 367.88C84.25 369.03 84.93 370.92 84.93 372.67C84.93 374.42 83.98 376.72 82.66 378.36C81.33 379.99 79.81 381.73 76.97 382.50C74.12 383.27 68.33 383.20 65.59 382.99C62.86 382.77 61.60 382.31 60.56 381.20C59.51 380.09 59.27 378.15 59.34 376.32Z" fill="none" stroke="#4a4a4a" stroke-width="0.45"/><path d="M60.35 376.10C60.41 374.41 60.64 372.00 61.85 370.48C63.06 368.95 65.41 367.64 67.62 366.95C69.84 366.26 72.75 366.12 75.12 366.35C77.50 366.58 80.40 367.24 81.88 368.30C83.35 369.36 83.97 371.11 83.97 372.73C83.97 374.34 83.10 376.46 81.88 377.98C80.65 379.49 79.25 381.09 76.62 381.80C74.00 382.51 68.65 382.45 66.12 382.25C63.60 382.05 62.44 381.62 61.47 380.60C60.51 379.58 60.29 377.79 60.35 376.10Z" fill="#868686" stroke="#b8b8b8" stroke-width="0.55"/><path d="M61.36 375.88C61.42 374.33 61.63 372.12 62.74 370.72C63.85 369.32 66.00 368.12 68.03 367.49C70.06 366.86 72.73 366.73 74.91 366.94C77.08 367.14 79.74 367.75 81.09 368.73C82.45 369.70 83.02 371.30 83.02 372.78C83.02 374.26 82.22 376.21 81.09 377.59C79.97 378.98 78.69 380.45 76.28 381.10C73.88 381.75 68.97 381.70 66.66 381.51C64.34 381.33 63.28 380.94 62.39 380.00C61.51 379.06 61.31 377.42 61.36 375.88Z" fill="none" stroke="#4a4a4a" stroke-width="0.45"/><path d="M62.38 375.65C62.43 374.24 62.61 372.23 63.62 370.96C64.64 369.69 66.59 368.60 68.44 368.02C70.28 367.45 72.71 367.34 74.69 367.52C76.67 367.71 79.08 368.26 80.31 369.15C81.54 370.04 82.06 371.49 82.06 372.84C82.06 374.18 81.33 375.95 80.31 377.21C79.29 378.47 78.12 379.81 75.94 380.40C73.75 380.99 69.29 380.94 67.19 380.77C65.08 380.61 64.11 380.25 63.31 379.40C62.51 378.55 62.32 377.06 62.38 375.65Z" fill="#939393" stroke="#b8b8b8" stroke-width="0.55"/><path d="M63.39 375.43C63.43 374.16 63.60 372.35 64.51 371.21C65.42 370.06 67.18 369.08 68.84 368.56C70.50 368.05 72.69 367.94 74.47 368.11C76.25 368.28 78.42 368.78 79.53 369.57C80.64 370.37 81.11 371.68 81.11 372.89C81.11 374.10 80.45 375.70 79.53 376.83C78.61 377.97 77.56 379.17 75.59 379.70C73.62 380.23 69.61 380.19 67.72 380.04C65.83 379.89 64.95 379.57 64.23 378.80C63.51 378.03 63.34 376.69 63.39 375.43Z" fill="none" stroke="#4a4a4a" stroke-width="0.45"/><path d="M64.40 375.20C64.44 374.07 64.59 372.47 65.40 371.45C66.21 370.43 67.78 369.56 69.25 369.10C70.72 368.64 72.67 368.55 74.25 368.70C75.83 368.85 77.77 369.29 78.75 370.00C79.73 370.71 80.15 371.88 80.15 372.95C80.15 374.02 79.57 375.44 78.75 376.45C77.93 377.46 77.00 378.52 75.25 379.00C73.50 379.48 69.93 379.43 68.25 379.30C66.57 379.17 65.79 378.88 65.15 378.20C64.51 377.52 64.36 376.32 64.40 375.20Z" fill="#a0a0a0" stroke="#b8b8b8" stroke-width="0.55"/><path d="M65.41 374.97C65.45 373.99 65.58 372.58 66.29 371.69C66.99 370.80 68.37 370.04 69.66 369.64C70.95 369.24 72.65 369.16 74.03 369.29C75.42 369.42 77.11 369.81 77.97 370.43C78.83 371.04 79.19 372.07 79.19 373.01C79.19 373.95 78.68 375.19 77.97 376.07C77.25 376.95 76.44 377.88 74.91 378.30C73.38 378.72 70.25 378.68 68.78 378.56C67.31 378.45 66.63 378.20 66.07 377.60C65.51 377.00 65.38 375.96 65.41 374.97Z" fill="none" stroke="#4a4a4a" stroke-width="0.45"/><path d="M66.42 374.75C66.46 373.91 66.57 372.70 67.17 371.94C67.78 371.18 68.96 370.52 70.06 370.18C71.17 369.83 72.62 369.76 73.81 369.88C75.00 369.99 76.45 370.32 77.19 370.85C77.92 371.38 78.24 372.26 78.24 373.06C78.24 373.87 77.80 374.93 77.19 375.69C76.58 376.44 75.88 377.24 74.56 377.60C73.25 377.96 70.58 377.93 69.31 377.82C68.05 377.72 67.47 377.51 66.99 377.00C66.51 376.49 66.39 375.59 66.42 374.75Z" fill="#adadad" stroke="#b8b8b8" stroke-width="0.55"/><path d="M67.44 374.52C67.46 373.82 67.56 372.82 68.06 372.18C68.57 371.55 69.55 371.00 70.47 370.71C71.39 370.43 72.60 370.37 73.59 370.46C74.58 370.56 75.79 370.83 76.41 371.27C77.02 371.72 77.28 372.45 77.28 373.12C77.28 373.79 76.92 374.68 76.41 375.31C75.90 375.94 75.31 376.60 74.22 376.90C73.12 377.20 70.90 377.17 69.84 377.09C68.79 377.00 68.31 376.83 67.91 376.40C67.51 375.97 67.41 375.23 67.44 374.52Z" fill="none" stroke="#4a4a4a" stroke-width="0.45"/><path d="M68.45 374.30C68.47 373.74 68.55 372.93 68.95 372.42C69.35 371.92 70.14 371.48 70.88 371.25C71.61 371.02 72.58 370.97 73.38 371.05C74.17 371.12 75.13 371.35 75.62 371.70C76.12 372.05 76.33 372.64 76.33 373.17C76.33 373.71 76.03 374.42 75.62 374.92C75.22 375.43 74.75 375.96 73.88 376.20C73.00 376.44 71.22 376.42 70.38 376.35C69.53 376.28 69.15 376.14 68.83 375.80C68.50 375.46 68.43 374.86 68.45 374.30Z" fill="#bababa" stroke="#b8b8b8" stroke-width="0.55"/><path d="M69.46 374.07C69.48 373.65 69.53 373.05 69.84 372.67C70.14 372.29 70.73 371.96 71.28 371.79C71.83 371.62 72.56 371.58 73.16 371.64C73.75 371.69 74.47 371.86 74.84 372.12C75.21 372.39 75.37 372.83 75.37 373.23C75.37 373.63 75.15 374.17 74.84 374.54C74.54 374.92 74.19 375.32 73.53 375.50C72.88 375.68 71.54 375.66 70.91 375.61C70.28 375.56 69.98 375.46 69.74 375.20C69.50 374.94 69.45 374.50 69.46 374.07Z" fill="none" stroke="#4a4a4a" stroke-width="0.45"/><path d="M70.47 373.85C70.49 373.57 70.52 373.17 70.72 372.91C70.93 372.66 71.32 372.44 71.69 372.32C72.06 372.21 72.54 372.19 72.94 372.22C73.33 372.26 73.82 372.37 74.06 372.55C74.31 372.73 74.41 373.02 74.41 373.29C74.41 373.56 74.27 373.91 74.06 374.16C73.86 374.41 73.62 374.68 73.19 374.80C72.75 374.92 71.86 374.91 71.44 374.88C71.02 374.84 70.82 374.77 70.66 374.60C70.50 374.43 70.46 374.13 70.47 373.85Z" fill="#c8c8c8" stroke="#b8b8b8" stroke-width="0.55"/><path d="M52.83 390.92C52.56 389.67 54.50 388.28 56.33 387.42C58.17 386.56 60.92 385.97 63.83 385.75C66.75 385.53 71.36 385.33 73.83 386.08C76.31 386.83 78.39 388.89 78.67 390.25C78.94 391.61 77.42 393.33 75.50 394.25C73.58 395.17 70.08 395.64 67.17 395.75C64.25 395.86 60.39 395.72 58.00 394.92C55.61 394.11 53.11 392.17 52.83 390.92Z" fill="none" stroke="#b8b8b8" stroke-width="0.55"/><path d="M53.85 390.98C53.60 389.85 55.35 388.60 57.00 387.83C58.65 387.05 61.12 386.53 63.75 386.33C66.38 386.13 70.53 385.95 72.75 386.62C74.97 387.30 76.85 389.15 77.10 390.38C77.35 391.60 75.97 393.15 74.25 393.98C72.53 394.80 69.38 395.23 66.75 395.33C64.12 395.43 60.65 395.30 58.50 394.58C56.35 393.85 54.10 392.10 53.85 390.98Z" fill="none" stroke="#4a4a4a" stroke-width="0.45"/><path d="M54.87 391.03C54.64 390.03 56.20 388.92 57.67 388.23C59.13 387.54 61.33 387.08 63.67 386.90C66.00 386.72 69.69 386.57 71.67 387.17C73.64 387.77 75.31 389.41 75.53 390.50C75.76 391.59 74.53 392.97 73.00 393.70C71.47 394.43 68.67 394.81 66.33 394.90C64.00 394.99 60.91 394.88 59.00 394.23C57.09 393.59 55.09 392.03 54.87 391.03Z" fill="none" stroke="#b8b8b8" stroke-width="0.55"/><path d="M55.88 391.09C55.69 390.22 57.05 389.24 58.33 388.64C59.62 388.04 61.54 387.63 63.58 387.48C65.62 387.32 68.85 387.18 70.58 387.71C72.31 388.23 73.77 389.67 73.97 390.62C74.16 391.58 73.09 392.78 71.75 393.43C70.41 394.07 67.96 394.40 65.92 394.48C63.88 394.55 61.17 394.46 59.50 393.89C57.83 393.33 56.08 391.97 55.88 391.09Z" fill="none" stroke="#4a4a4a" stroke-width="0.45"/><path d="M56.90 391.15C56.73 390.40 57.90 389.57 59.00 389.05C60.10 388.53 61.75 388.18 63.50 388.05C65.25 387.92 68.02 387.80 69.50 388.25C70.98 388.70 72.23 389.93 72.40 390.75C72.57 391.57 71.65 392.60 70.50 393.15C69.35 393.70 67.25 393.98 65.50 394.05C63.75 394.12 61.43 394.03 60.00 393.55C58.57 393.07 57.07 391.90 56.90 391.15Z" fill="#808080" stroke="#b8b8b8" stroke-width="0.55"/><path d="M57.92 391.21C57.78 390.58 58.75 389.89 59.67 389.46C60.58 389.03 61.96 388.74 63.42 388.62C64.88 388.51 67.18 388.42 68.42 388.79C69.65 389.17 70.69 390.19 70.83 390.88C70.97 391.56 70.21 392.42 69.25 392.88C68.29 393.33 66.54 393.57 65.08 393.62C63.62 393.68 61.69 393.61 60.50 393.21C59.31 392.81 58.06 391.83 57.92 391.21Z" fill="none" stroke="#4a4a4a" stroke-width="0.45"/><path d="M58.93 391.27C58.82 390.77 59.60 390.21 60.33 389.87C61.07 389.52 62.17 389.29 63.33 389.20C64.50 389.11 66.34 389.03 67.33 389.33C68.32 389.63 69.16 390.46 69.27 391.00C69.38 391.54 68.77 392.23 68.00 392.60C67.23 392.97 65.83 393.16 64.67 393.20C63.50 393.24 61.96 393.19 61.00 392.87C60.04 392.54 59.04 391.77 58.93 391.27Z" fill="#808080" stroke="#b8b8b8" stroke-width="0.55"/><path d="M59.95 391.32C59.87 390.95 60.45 390.53 61.00 390.27C61.55 390.02 62.38 389.84 63.25 389.77C64.12 389.71 65.51 389.65 66.25 389.88C66.99 390.10 67.62 390.72 67.70 391.12C67.78 391.53 67.33 392.05 66.75 392.32C66.17 392.60 65.12 392.74 64.25 392.77C63.38 392.81 62.22 392.77 61.50 392.52C60.78 392.28 60.03 391.70 59.95 391.32Z" fill="none" stroke="#4a4a4a" stroke-width="0.45"/><path d="M60.97 391.38C60.91 391.13 61.30 390.86 61.67 390.68C62.03 390.51 62.58 390.39 63.17 390.35C63.75 390.31 64.67 390.27 65.17 390.42C65.66 390.57 66.08 390.98 66.13 391.25C66.19 391.52 65.88 391.87 65.50 392.05C65.12 392.23 64.42 392.33 63.83 392.35C63.25 392.37 62.48 392.34 62.00 392.18C61.52 392.02 61.02 391.63 60.97 391.38Z" fill="#444" stroke="#b8b8b8" stroke-width="0.55"/>
<ellipse cx="62.8" cy="391.7" rx="3.0" ry="2.5" fill="#fff"/><ellipse cx="62.8" cy="391.7" rx="1.1" ry="0.9" fill="#666"/>
<ellipse cx="70.4" cy="373.6" rx="0.9" ry="0.8" fill="#fff"/><ellipse cx="74.2" cy="372.8" rx="1.3" ry="1.0" fill="#fff"/>
</g>
<g>
<rect x="50.0" y="173.5" width="6.7" height="4.0" fill="#b9b9b9"/>
<line x1="53.35" y1="173.5" x2="53.35" y2="171.8" stroke="#111" stroke-width="1.6"/>
<line x1="51.9" y1="171.8" x2="54.800000000000004" y2="171.8" stroke="#111" stroke-width="1.6"/>
<rect x="56.7" y="173.8" width="7.1" height="3.7" fill="#000"/>
<line x1="60.25" y1="173.8" x2="60.25" y2="173.0" stroke="#111" stroke-width="1.6"/>
<line x1="58.8" y1="173.0" x2="61.7" y2="173.0" stroke="#111" stroke-width="1.6"/>
<rect x="70.75" y="173.5" width="6.7" height="4.0" fill="#b9b9b9"/>
<line x1="74.1" y1="173.5" x2="74.1" y2="171.8" stroke="#111" stroke-width="1.6"/>
<line x1="72.64999999999999" y1="171.8" x2="75.55" y2="171.8" stroke="#111" stroke-width="1.6"/>
<rect x="77.45" y="174.6" width="7.1" height="2.9" fill="#000"/>
<line x1="81.0" y1="174.6" x2="81.0" y2="173.8" stroke="#111" stroke-width="1.6"/>
<line x1="79.55" y1="173.8" x2="82.45" y2="173.8" stroke="#111" stroke-width="1.6"/>
<rect x="91.6" y="168.8" width="6.7" height="8.7" fill="#b9b9b9"/>
<line x1="94.94999999999999" y1="168.8" x2="94.94999999999999" y2="167.0" stroke="#111" stroke-width="1.6"/>
<line x1="93.49999999999999" y1="167.0" x2="96.39999999999999" y2="167.0" stroke="#111" stroke-width="1.6"/>
<rect x="98.3" y="138.0" width="7.1" height="39.5" fill="#000"/>
<line x1="101.85" y1="138.0" x2="101.85" y2="118.8" stroke="#111" stroke-width="1.6"/>
<line x1="100.39999999999999" y1="118.8" x2="103.3" y2="118.8" stroke="#111" stroke-width="1.6"/>
<rect x="112.4" y="164.5" width="6.7" height="13.0" fill="#b9b9b9"/>
<line x1="115.75" y1="164.5" x2="115.75" y2="159.5" stroke="#111" stroke-width="1.6"/>
<line x1="114.3" y1="159.5" x2="117.2" y2="159.5" stroke="#111" stroke-width="1.6"/>
<rect x="119.10000000000001" y="141.2" width="7.1" height="36.3" fill="#000"/>
<line x1="122.65" y1="141.2" x2="122.65" y2="130.5" stroke="#111" stroke-width="1.6"/>
<line x1="121.2" y1="130.5" x2="124.10000000000001" y2="130.5" stroke="#111" stroke-width="1.6"/>
<rect x="133.2" y="168.0" width="6.7" height="9.5" fill="#b9b9b9"/>
<line x1="136.54999999999998" y1="168.0" x2="136.54999999999998" y2="166.0" stroke="#111" stroke-width="1.6"/>
<line x1="135.1" y1="166.0" x2="137.99999999999997" y2="166.0" stroke="#111" stroke-width="1.6"/>
<rect x="139.89999999999998" y="164.5" width="7.1" height="13.0" fill="#000"/>
<line x1="143.45" y1="164.5" x2="143.45" y2="159.0" stroke="#111" stroke-width="1.6"/>
<line x1="142.0" y1="159.0" x2="144.89999999999998" y2="159.0" stroke="#111" stroke-width="1.6"/>
<rect x="154.0" y="139.3" width="6.7" height="38.2" fill="#b9b9b9"/>
<line x1="157.35" y1="139.3" x2="157.35" y2="119.6" stroke="#111" stroke-width="1.6"/>
<line x1="155.9" y1="119.6" x2="158.79999999999998" y2="119.6" stroke="#111" stroke-width="1.6"/>
<rect x="160.7" y="162.0" width="7.1" height="15.5" fill="#000"/>
<line x1="164.25" y1="162.0" x2="164.25" y2="155.5" stroke="#111" stroke-width="1.6"/>
<line x1="162.8" y1="155.5" x2="165.7" y2="155.5" stroke="#111" stroke-width="1.6"/>
<rect x="174.6" y="108.1" width="6.6" height="69.4" fill="#b9b9b9"/>
<line x1="177.89999999999998" y1="108.1" x2="177.89999999999998" y2="92.4" stroke="#111" stroke-width="1.6"/>
<line x1="176.45" y1="92.4" x2="179.34999999999997" y2="92.4" stroke="#111" stroke-width="1.6"/>
<rect x="181.2" y="45.2" width="7.6" height="132.3" fill="#000"/>
<line x1="185.0" y1="45.2" x2="185.0" y2="17.8" stroke="#111" stroke-width="1.6"/>
<line x1="183.55" y1="17.8" x2="186.45" y2="17.8" stroke="#111" stroke-width="1.6"/>
<line x1="44.95" y1="8.5" x2="44.95" y2="178.2" stroke="#000" stroke-width="1.45"/>
<line x1="44.45" y1="177.5" x2="188.9" y2="177.5" stroke="#000" stroke-width="1.6"/>
<line x1="42.95" y1="9.2" x2="44.95" y2="9.2" stroke="#111" stroke-width="1"/>
<line x1="42.95" y1="31.6" x2="44.95" y2="31.6" stroke="#111" stroke-width="1"/>
<line x1="42.95" y1="54.0" x2="44.95" y2="54.0" stroke="#111" stroke-width="1"/>
<line x1="42.95" y1="76.5" x2="44.95" y2="76.5" stroke="#111" stroke-width="1"/>
<line x1="42.95" y1="85.5" x2="44.95" y2="85.5" stroke="#111" stroke-width="1"/>
<line x1="42.95" y1="108.6" x2="44.95" y2="108.6" stroke="#111" stroke-width="1"/>
<line x1="42.95" y1="131.6" x2="44.95" y2="131.6" stroke="#111" stroke-width="1"/>
<line x1="42.95" y1="154.5" x2="44.95" y2="154.5" stroke="#111" stroke-width="1"/>
<line x1="42.95" y1="177.4" x2="44.95" y2="177.4" stroke="#111" stroke-width="1"/>
<line x1="43.35" y1="20.4" x2="44.95" y2="20.4" stroke="#111" stroke-width="0.9"/>
<line x1="43.35" y1="42.8" x2="44.95" y2="42.8" stroke="#111" stroke-width="0.9"/>
<line x1="43.35" y1="65.2" x2="44.95" y2="65.2" stroke="#111" stroke-width="0.9"/>
<line x1="43.35" y1="96.95" x2="44.95" y2="96.95" stroke="#111" stroke-width="0.9"/>
<line x1="43.35" y1="120.05" x2="44.95" y2="120.05" stroke="#111" stroke-width="0.9"/>
<line x1="43.35" y1="143.04999999999998" x2="44.95" y2="143.04999999999998" stroke="#111" stroke-width="0.9"/>
<line x1="43.35" y1="165.95" x2="44.95" y2="165.95" stroke="#111" stroke-width="0.9"/>
<rect x="40" y="78.2" width="10" height="4.0" fill="#fff"/>
<line x1="41.4" y1="79.9" x2="49.8" y2="75.4" stroke="#111" stroke-width="1.3"/>
<line x1="41.4" y1="83.3" x2="50.2" y2="78.7" stroke="#111" stroke-width="1.3"/>
<rect x="180" y="74.6" width="10" height="5.6" fill="#fff"/>
<rect x="88.1" y="208.5" width="3.6" height="3.6" fill="#b9b9b9"/>
<rect x="112.89999999999999" y="208.5" width="3.6" height="3.5" fill="#000"/>
<line x1="231.3" y1="14" x2="231.3" y2="199.8" stroke="#111" stroke-width="1.6"/>
<path d="M231.3 8 L228.4 17.6 L231.3 16.2 L234.2 17.6 Z" fill="#111"/>
<line x1="233.2" y1="202.55" x2="326" y2="202.55" stroke="#111" stroke-width="1.5"/>
<path d="M332.6 202.55 L323.2 199.9 L325.2 202.55 L323.2 205.2 Z" fill="#111"/>
<rect x="240.45" y="15.45" width="91.0" height="84.75" fill="none" stroke="#3c3c3c" stroke-width="0.7"/>
<line x1="275.6" y1="15.45" x2="275.6" y2="100.2" stroke="#5c5c5c" stroke-width="0.7"/>
<line x1="240.45" y1="67.4" x2="331.45" y2="67.4" stroke="#5c5c5c" stroke-width="0.7"/>
<path d="M236.65 21.8 L237.85 20.6 M237.85 22.4 L240.45 22.4" fill="none" stroke="#444" stroke-width="0.7"/>
<path d="M236.65 42.8 L237.85 41.6 M237.85 43.4 L240.45 43.4" fill="none" stroke="#444" stroke-width="0.7"/>
<path d="M236.65 66.8 L237.85 65.6 M237.85 67.4 L240.45 67.4" fill="none" stroke="#444" stroke-width="0.7"/>
<path d="M236.65 77.6 L237.85 76.4 M237.85 78.2 L240.45 78.2" fill="none" stroke="#444" stroke-width="0.7"/>
<path d="M236.65 87.9 L237.85 86.7 M237.85 88.5 L240.45 88.5" fill="none" stroke="#444" stroke-width="0.7"/>
<path d="M245.7 103.6 L247.3 102.6 M247.7 100.2 L247.7 102.2" fill="none" stroke="#444" stroke-width="0.7"/>
<path d="M260 103.6 L261.6 102.6 M262 100.2 L262 102.2" fill="none" stroke="#444" stroke-width="0.7"/>
<path d="M273.7 103.6 L275.3 102.6 M275.7 100.2 L275.7 102.2" fill="none" stroke="#444" stroke-width="0.7"/>
<path d="M299.2 103.6 L300.8 102.6 M301.2 100.2 L301.2 102.2" fill="none" stroke="#444" stroke-width="0.7"/>
<path d="M320.3 103.6 L321.9 102.6 M322.3 100.2 L322.3 102.2" fill="none" stroke="#444" stroke-width="0.7"/>
<line x1="236.25" y1="96.60000000000001" x2="236.25" y2="102.4" stroke="#555" stroke-width="1.0" stroke-dasharray="1.6 0.6"/>
<line x1="237.25" y1="104.4" x2="242.64999999999998" y2="104.4" stroke="#666" stroke-width="0.9" stroke-dasharray="1.8 0.6"/>
<rect x="238.4" y="109.45" width="92.0" height="85.95" fill="none" stroke="#3c3c3c" stroke-width="0.7"/>
<line x1="275" y1="109.45" x2="275" y2="195.4" stroke="#5c5c5c" stroke-width="0.7"/>
<line x1="238.4" y1="161.5" x2="330.4" y2="161.5" stroke="#5c5c5c" stroke-width="0.7"/>
<path d="M234.6 116.4 L235.8 115.2 M235.8 117 L238.4 117" fill="none" stroke="#444" stroke-width="0.7"/>
<path d="M234.6 137.8 L235.8 136.6 M235.8 138.4 L238.4 138.4" fill="none" stroke="#444" stroke-width="0.7"/>
<path d="M234.6 160.9 L235.8 159.7 M235.8 161.5 L238.4 161.5" fill="none" stroke="#444" stroke-width="0.7"/>
<path d="M234.6 172.0 L235.8 170.8 M235.8 172.6 L238.4 172.6" fill="none" stroke="#444" stroke-width="0.7"/>
<path d="M234.6 182.4 L235.8 181.2 M235.8 183 L238.4 183" fill="none" stroke="#444" stroke-width="0.7"/>
<path d="M257 198.8 L258.6 197.8 M259 195.4 L259 197.4" fill="none" stroke="#444" stroke-width="0.7"/>
<path d="M273 198.8 L274.6 197.8 M275 195.4 L275 197.4" fill="none" stroke="#444" stroke-width="0.7"/>
<path d="M298.8 198.8 L300.4 197.8 M300.8 195.4 L300.8 197.4" fill="none" stroke="#444" stroke-width="0.7"/>
<path d="M320.8 198.8 L322.4 197.8 M322.8 195.4 L322.8 197.4" fill="none" stroke="#444" stroke-width="0.7"/>
<line x1="234.20000000000002" y1="191.8" x2="234.20000000000002" y2="197.6" stroke="#555" stroke-width="1.0" stroke-dasharray="1.6 0.6"/>
<line x1="235.20000000000002" y1="199.6" x2="240.6" y2="199.6" stroke="#666" stroke-width="0.9" stroke-dasharray="1.8 0.6"/>
<line x1="28.95" y1="235" x2="28.95" y2="419.5" stroke="#111" stroke-width="1.6"/>
<path d="M28.95 228.3 L26.05 237.6 L28.95 236.2 L31.85 237.6 Z" fill="#111"/>
<line x1="30.8" y1="422.55" x2="123" y2="422.55" stroke="#111" stroke-width="1.5"/>
<path d="M130.4 422.55 L121.0 419.9 L123 422.55 L121.0 425.2 Z" fill="#111"/>
<rect x="38.0" y="229.05" width="90.65" height="84.35" fill="none" stroke="#3c3c3c" stroke-width="0.7"/>
<line x1="70.4" y1="229.05" x2="70.4" y2="313.4" stroke="#5c5c5c" stroke-width="0.7"/>
<line x1="38.0" y1="284.8" x2="128.65" y2="284.8" stroke="#5c5c5c" stroke-width="0.7"/>
<path d="M34.2 235.9 L35.4 234.7 M35.4 236.5 L38.0 236.5" fill="none" stroke="#444" stroke-width="0.7"/>
<path d="M34.2 256.8 L35.4 255.6 M35.4 257.4 L38.0 257.4" fill="none" stroke="#444" stroke-width="0.7"/>
<path d="M34.2 279.9 L35.4 278.7 M35.4 280.5 L38.0 280.5" fill="none" stroke="#444" stroke-width="0.7"/>
<path d="M34.2 292.4 L35.4 291.2 M35.4 293 L38.0 293" fill="none" stroke="#444" stroke-width="0.7"/>
<path d="M34.2 302.8 L35.4 301.6 M35.4 303.4 L38.0 303.4" fill="none" stroke="#444" stroke-width="0.7"/>
<path d="M45.1 316.8 L46.7 315.8 M47.1 313.4 L47.1 315.4" fill="none" stroke="#444" stroke-width="0.7"/>
<path d="M57.8 316.8 L59.4 315.8 M59.8 313.4 L59.8 315.4" fill="none" stroke="#444" stroke-width="0.7"/>
<path d="M71.3 316.8 L72.9 315.8 M73.3 313.4 L73.3 315.4" fill="none" stroke="#444" stroke-width="0.7"/>
<path d="M97 316.8 L98.6 315.8 M99 313.4 L99 315.4" fill="none" stroke="#444" stroke-width="0.7"/>
<path d="M118.3 316.8 L119.9 315.8 M120.3 313.4 L120.3 315.4" fill="none" stroke="#444" stroke-width="0.7"/>
<line x1="33.8" y1="309.79999999999995" x2="33.8" y2="315.59999999999997" stroke="#555" stroke-width="1.0" stroke-dasharray="1.6 0.6"/>
<line x1="34.8" y1="317.59999999999997" x2="40.2" y2="317.59999999999997" stroke="#666" stroke-width="0.9" stroke-dasharray="1.8 0.6"/>
<rect x="37.35" y="327.7" width="90.95" height="83.35" fill="none" stroke="#3c3c3c" stroke-width="0.7"/>
<line x1="69.8" y1="327.7" x2="69.8" y2="411.05" stroke="#5c5c5c" stroke-width="0.7"/>
<line x1="37.35" y1="382.9" x2="128.3" y2="382.9" stroke="#5c5c5c" stroke-width="0.7"/>
<path d="M33.55 334.4 L34.75 333.2 M34.75 335 L37.35 335" fill="none" stroke="#444" stroke-width="0.7"/>
<path d="M33.55 354.0 L34.75 352.8 M34.75 354.6 L37.35 354.6" fill="none" stroke="#444" stroke-width="0.7"/>
<path d="M33.55 376.2 L34.75 375.0 M34.75 376.8 L37.35 376.8" fill="none" stroke="#444" stroke-width="0.7"/>
<path d="M33.55 388.4 L34.75 387.2 M34.75 389 L37.35 389" fill="none" stroke="#444" stroke-width="0.7"/>
<path d="M33.55 400.0 L34.75 398.8 M34.75 400.6 L37.35 400.6" fill="none" stroke="#444" stroke-width="0.7"/>
<path d="M46.3 414.45 L47.9 413.45 M48.3 411.05 L48.3 413.05" fill="none" stroke="#444" stroke-width="0.7"/>
<path d="M57.7 414.45 L59.3 413.45 M59.7 411.05 L59.7 413.05" fill="none" stroke="#444" stroke-width="0.7"/>
<path d="M70.2 414.45 L71.8 413.45 M72.2 411.05 L72.2 413.05" fill="none" stroke="#444" stroke-width="0.7"/>
<path d="M96.5 414.45 L98.1 413.45 M98.5 411.05 L98.5 413.05" fill="none" stroke="#444" stroke-width="0.7"/>
<path d="M117.8 414.45 L119.4 413.45 M119.8 411.05 L119.8 413.05" fill="none" stroke="#444" stroke-width="0.7"/>
<line x1="33.15" y1="407.45" x2="33.15" y2="413.25" stroke="#555" stroke-width="1.0" stroke-dasharray="1.6 0.6"/>
<line x1="34.15" y1="415.25" x2="39.550000000000004" y2="415.25" stroke="#666" stroke-width="0.9" stroke-dasharray="1.8 0.6"/>
<rect x="386.4" y="76" width="15.0" height="40.4" fill="#b9b9b9"/>
<line x1="393.9" y1="76" x2="393.9" y2="62.3" stroke="#111" stroke-width="1.6"/>
<line x1="392.2" y1="62.3" x2="395.59999999999997" y2="62.3" stroke="#111" stroke-width="1.6"/>
<rect x="409.2" y="40.1" width="14.4" height="76.3" fill="#000"/>
<line x1="416.4" y1="40.1" x2="416.4" y2="26" stroke="#111" stroke-width="1.6"/>
<line x1="414.7" y1="26" x2="418.09999999999997" y2="26" stroke="#111" stroke-width="1.6"/>
<line x1="383" y1="10.5" x2="383" y2="117.80000000000001" stroke="#000" stroke-width="1.4"/>
<line x1="382.5" y1="116.4" x2="427.5" y2="116.4" stroke="#000" stroke-width="1.5"/>
<line x1="381.1" y1="11.5" x2="383" y2="11.5" stroke="#111" stroke-width="1"/>
<line x1="381.1" y1="37.6" x2="383" y2="37.6" stroke="#111" stroke-width="1"/>
<line x1="381.1" y1="63.8" x2="383" y2="63.8" stroke="#111" stroke-width="1"/>
<line x1="381.1" y1="90.1" x2="383" y2="90.1" stroke="#111" stroke-width="1"/>
<line x1="381.1" y1="116.3" x2="383" y2="116.3" stroke="#111" stroke-width="1"/>
<line x1="405.29999999999995" y1="116.4" x2="405.29999999999995" y2="118.60000000000001" stroke="#111" stroke-width="1"/>
<line x1="427.0" y1="116.4" x2="427.0" y2="118.60000000000001" stroke="#111" stroke-width="1"/>
<rect x="477" y="103.7" width="14" height="13.3" fill="#b9b9b9"/>
<line x1="484.0" y1="103.7" x2="484.0" y2="97.5" stroke="#111" stroke-width="1.6"/>
<line x1="482.3" y1="97.5" x2="485.7" y2="97.5" stroke="#111" stroke-width="1.6"/>
<rect x="499.5" y="45.3" width="14.1" height="71.7" fill="#000"/>
<line x1="506.55" y1="45.3" x2="506.55" y2="17" stroke="#111" stroke-width="1.6"/>
<line x1="504.85" y1="17" x2="508.25" y2="17" stroke="#111" stroke-width="1.6"/>
<line x1="473.3" y1="10.5" x2="473.3" y2="119.6" stroke="#000" stroke-width="1.4"/>
<line x1="472.8" y1="117.0" x2="519" y2="117.0" stroke="#000" stroke-width="1.5"/>
<line x1="471.40000000000003" y1="11.1" x2="473.3" y2="11.1" stroke="#111" stroke-width="1"/>
<line x1="471.40000000000003" y1="26.1" x2="473.3" y2="26.1" stroke="#111" stroke-width="1"/>
<line x1="471.40000000000003" y1="41.1" x2="473.3" y2="41.1" stroke="#111" stroke-width="1"/>
<line x1="471.40000000000003" y1="56.2" x2="473.3" y2="56.2" stroke="#111" stroke-width="1"/>
<line x1="471.40000000000003" y1="71.3" x2="473.3" y2="71.3" stroke="#111" stroke-width="1"/>
<line x1="471.40000000000003" y1="86.5" x2="473.3" y2="86.5" stroke="#111" stroke-width="1"/>
<line x1="471.40000000000003" y1="101.6" x2="473.3" y2="101.6" stroke="#111" stroke-width="1"/>
<line x1="471.40000000000003" y1="116.6" x2="473.3" y2="116.6" stroke="#111" stroke-width="1"/>
<line x1="495.25" y1="117.0" x2="495.25" y2="119.2" stroke="#111" stroke-width="1"/>
<line x1="518.5" y1="117.0" x2="518.5" y2="119.2" stroke="#111" stroke-width="1"/>
<rect x="425.2" y="136.4" width="3.6" height="3.6" fill="#b9b9b9"/>
<rect x="450.0" y="136.4" width="3.6" height="3.5" fill="#000"/>
<rect x="179.8" y="321.2" width="14.0" height="19.1" fill="#b9b9b9"/>
<line x1="186.8" y1="321.2" x2="186.8" y2="311.5" stroke="#111" stroke-width="1.6"/>
<line x1="185.5" y1="311.5" x2="188.10000000000002" y2="311.5" stroke="#111" stroke-width="1.6"/>
<rect x="202.4" y="280.7" width="13.2" height="59.6" fill="#000"/>
<line x1="209.0" y1="280.7" x2="209.0" y2="250.3" stroke="#111" stroke-width="1.6"/>
<line x1="207.7" y1="250.3" x2="210.3" y2="250.3" stroke="#111" stroke-width="1.6"/>
<line x1="175.0" y1="233" x2="175.0" y2="342.5" stroke="#000" stroke-width="1.4"/>
<line x1="174.5" y1="340.3" x2="222" y2="340.3" stroke="#000" stroke-width="1.5"/>
<line x1="173.1" y1="234.1" x2="175.0" y2="234.1" stroke="#111" stroke-width="1"/>
<line x1="173.1" y1="249.3" x2="175.0" y2="249.3" stroke="#111" stroke-width="1"/>
<line x1="173.1" y1="264.5" x2="175.0" y2="264.5" stroke="#111" stroke-width="1"/>
<line x1="173.1" y1="279.7" x2="175.0" y2="279.7" stroke="#111" stroke-width="1"/>
<line x1="173.1" y1="295" x2="175.0" y2="295" stroke="#111" stroke-width="1"/>
<line x1="173.1" y1="310.2" x2="175.0" y2="310.2" stroke="#111" stroke-width="1"/>
<line x1="173.1" y1="325.4" x2="175.0" y2="325.4" stroke="#111" stroke-width="1"/>
<line x1="173.1" y1="340.6" x2="175.0" y2="340.6" stroke="#111" stroke-width="1"/>
<line x1="198.10000000000002" y1="340.3" x2="198.10000000000002" y2="342.5" stroke="#111" stroke-width="1"/>
<line x1="221.5" y1="340.3" x2="221.5" y2="342.5" stroke="#111" stroke-width="1"/>
<rect x="253.6" y="333.3" width="15.4" height="7.3" fill="#b9b9b9"/>
<line x1="261.3" y1="333.3" x2="261.3" y2="330.3" stroke="#111" stroke-width="1.6"/>
<line x1="260.0" y1="330.3" x2="262.6" y2="330.3" stroke="#111" stroke-width="1.6"/>
<rect x="276.6" y="281.3" width="14.9" height="59.3" fill="#000"/>
<line x1="284.05" y1="281.3" x2="284.05" y2="245.6" stroke="#111" stroke-width="1.6"/>
<line x1="282.75" y1="245.6" x2="285.35" y2="245.6" stroke="#111" stroke-width="1.6"/>
<line x1="250" y1="231.6" x2="250" y2="341.5" stroke="#000" stroke-width="1.4"/>
<line x1="249.5" y1="340.6" x2="296.5" y2="340.6" stroke="#000" stroke-width="1.5"/>
<line x1="248.1" y1="243.0" x2="250" y2="243.0" stroke="#111" stroke-width="1"/>
<line x1="248.1" y1="267.4" x2="250" y2="267.4" stroke="#111" stroke-width="1"/>
<line x1="248.1" y1="291.8" x2="250" y2="291.8" stroke="#111" stroke-width="1"/>
<line x1="248.1" y1="316.2" x2="250" y2="316.2" stroke="#111" stroke-width="1"/>
<line x1="248.1" y1="340.6" x2="250" y2="340.6" stroke="#111" stroke-width="1"/>
<line x1="248.4" y1="255.2" x2="250" y2="255.2" stroke="#111" stroke-width="0.9"/>
<line x1="248.4" y1="279.6" x2="250" y2="279.6" stroke="#111" stroke-width="0.9"/>
<line x1="248.4" y1="304" x2="250" y2="304" stroke="#111" stroke-width="0.9"/>
<line x1="248.4" y1="328.4" x2="250" y2="328.4" stroke="#111" stroke-width="0.9"/>
<line x1="272.8" y1="340.6" x2="272.8" y2="342.8" stroke="#111" stroke-width="1"/>
<line x1="296.0" y1="340.6" x2="296.0" y2="342.8" stroke="#111" stroke-width="1"/>
<rect x="209.6" y="360.4" width="3.6" height="3.6" fill="#b9b9b9"/>
<rect x="234.6" y="360.4" width="3.6" height="3.5" fill="#000"/>
<rect x="364.8" y="312" width="15.0" height="28.6" fill="#b9b9b9"/>
<line x1="372.3" y1="312" x2="372.3" y2="298.5" stroke="#111" stroke-width="1.6"/>
<line x1="371.0" y1="298.5" x2="373.6" y2="298.5" stroke="#111" stroke-width="1.6"/>
<rect x="387.3" y="288" width="14.9" height="52.6" fill="#000"/>
<line x1="394.75" y1="288" x2="394.75" y2="244.6" stroke="#111" stroke-width="1.6"/>
<line x1="393.45" y1="244.6" x2="396.05" y2="244.6" stroke="#111" stroke-width="1.6"/>
<line x1="361.25" y1="232.4" x2="361.25" y2="341.5" stroke="#000" stroke-width="1.4"/>
<line x1="360.75" y1="340.6" x2="407" y2="340.6" stroke="#000" stroke-width="1.5"/>
<line x1="359.35" y1="232.7" x2="361.25" y2="232.7" stroke="#111" stroke-width="1"/>
<line x1="359.35" y1="250.6" x2="361.25" y2="250.6" stroke="#111" stroke-width="1"/>
<line x1="359.35" y1="268.6" x2="361.25" y2="268.6" stroke="#111" stroke-width="1"/>
<line x1="359.35" y1="286.5" x2="361.25" y2="286.5" stroke="#111" stroke-width="1"/>
<line x1="359.35" y1="304.5" x2="361.25" y2="304.5" stroke="#111" stroke-width="1"/>
<line x1="359.35" y1="322.4" x2="361.25" y2="322.4" stroke="#111" stroke-width="1"/>
<line x1="359.35" y1="340.3" x2="361.25" y2="340.3" stroke="#111" stroke-width="1"/>
<line x1="383.55" y1="340.6" x2="383.55" y2="342.8" stroke="#111" stroke-width="1"/>
<line x1="406.5" y1="340.6" x2="406.5" y2="342.8" stroke="#111" stroke-width="1"/>
<rect x="444.4" y="286.2" width="14.8" height="54.8" fill="#b9b9b9"/>
<line x1="451.79999999999995" y1="286.2" x2="451.79999999999995" y2="262.8" stroke="#111" stroke-width="1.6"/>
<line x1="450.49999999999994" y1="262.8" x2="453.09999999999997" y2="262.8" stroke="#111" stroke-width="1.6"/>
<rect x="466.9" y="259.3" width="14.7" height="81.7" fill="#000"/>
<line x1="474.25" y1="259.3" x2="474.25" y2="239.3" stroke="#111" stroke-width="1.6"/>
<line x1="472.95" y1="239.3" x2="475.55" y2="239.3" stroke="#111" stroke-width="1.6"/>
<line x1="440.25" y1="232" x2="440.25" y2="341.9" stroke="#000" stroke-width="1.4"/>
<line x1="439.75" y1="341.0" x2="485.8" y2="341.0" stroke="#000" stroke-width="1.5"/>
<line x1="438.35" y1="248.2" x2="440.25" y2="248.2" stroke="#111" stroke-width="1"/>
<line x1="438.35" y1="279" x2="440.25" y2="279" stroke="#111" stroke-width="1"/>
<line x1="438.35" y1="310" x2="440.25" y2="310" stroke="#111" stroke-width="1"/>
<line x1="438.35" y1="340.8" x2="440.25" y2="340.8" stroke="#111" stroke-width="1"/>
<line x1="438.65" y1="263.6" x2="440.25" y2="263.6" stroke="#111" stroke-width="0.9"/>
<line x1="438.65" y1="294.5" x2="440.25" y2="294.5" stroke="#111" stroke-width="0.9"/>
<line x1="438.65" y1="325.4" x2="440.25" y2="325.4" stroke="#111" stroke-width="0.9"/>
<line x1="463.04999999999995" y1="341.0" x2="463.04999999999995" y2="343.2" stroke="#111" stroke-width="1"/>
<line x1="485.3" y1="341.0" x2="485.3" y2="343.2" stroke="#111" stroke-width="1"/>
<rect x="400.5" y="360.4" width="3.6" height="3.6" fill="#b9b9b9"/>
<rect x="425.5" y="360.4" width="3.6" height="3.5" fill="#000"/>
</g>
<g filter="url(#soft)">
<text x="1.5" y="13.6" font-size="11.5" text-anchor="start" fill="#000" font-weight="bold" stroke="#000" stroke-width="0.18">A</text>
<text x="59.4" y="180.6" font-size="7.9" text-anchor="end" fill="#000" font-weight="bold" stroke="#000" stroke-width="0.18" transform="rotate(-90 59.4 180.6)">IL-2</text>
<text x="80.15" y="180.6" font-size="7.9" text-anchor="end" fill="#000" font-weight="bold" stroke="#000" stroke-width="0.18" transform="rotate(-90 80.15 180.6)">IL-4</text>
<text x="101.0" y="180.6" font-size="7.9" text-anchor="end" fill="#000" font-weight="bold" stroke="#000" stroke-width="0.18" transform="rotate(-90 101.0 180.6)">IL-6</text>
<text x="121.80000000000001" y="180.6" font-size="7.9" text-anchor="end" fill="#000" font-weight="bold" stroke="#000" stroke-width="0.18" transform="rotate(-90 121.80000000000001 180.6)">IFN-<tspan font-weight="normal">&#947;</tspan></text>
<text x="142.6" y="180.6" font-size="7.9" text-anchor="end" fill="#000" font-weight="bold" stroke="#000" stroke-width="0.18" transform="rotate(-90 142.6 180.6)">IL-17A</text>
<text x="163.4" y="180.6" font-size="7.9" text-anchor="end" fill="#000" font-weight="bold" stroke="#000" stroke-width="0.18" transform="rotate(-90 163.4 180.6)">IL-10</text>
<text x="184.0" y="180.6" font-size="7.9" text-anchor="end" fill="#000" font-weight="bold" stroke="#000" stroke-width="0.18" transform="rotate(-90 184.0 180.6)">TNF-<tspan font-weight="normal">&#945;</tspan></text>
<text x="41.9" y="12.2" font-size="8.6" text-anchor="end" fill="#2a2a2a" stroke="#2a2a2a" stroke-width="0.22">5000</text>
<text x="41.9" y="34.6" font-size="8.6" text-anchor="end" fill="#2a2a2a" stroke="#2a2a2a" stroke-width="0.22">4000</text>
<text x="41.9" y="57.0" font-size="8.6" text-anchor="end" fill="#2a2a2a" stroke="#2a2a2a" stroke-width="0.22">3000</text>
<text x="41.9" y="79.5" font-size="8.6" text-anchor="end" fill="#2a2a2a" stroke="#2a2a2a" stroke-width="0.22">2000</text>
<text x="41.9" y="88.5" font-size="8.6" text-anchor="end" fill="#2a2a2a" stroke="#2a2a2a" stroke-width="0.22">800</text>
<text x="41.9" y="111.6" font-size="8.6" text-anchor="end" fill="#2a2a2a" stroke="#2a2a2a" stroke-width="0.22">600</text>
<text x="41.9" y="134.6" font-size="8.6" text-anchor="end" fill="#2a2a2a" stroke="#2a2a2a" stroke-width="0.22">400</text>
<text x="41.9" y="157.5" font-size="8.6" text-anchor="end" fill="#2a2a2a" stroke="#2a2a2a" stroke-width="0.22">200</text>
<text x="41.9" y="180.4" font-size="8.6" text-anchor="end" fill="#2a2a2a" stroke="#2a2a2a" stroke-width="0.22">0</text>
<text x="19" y="94.6" font-size="8.3" text-anchor="middle" fill="#000" font-weight="bold" stroke="#000" stroke-width="0.18" transform="rotate(-90 19 94.6)">Cytokine concentration (pg/ml)</text>
<text x="77.5" y="161.8" font-size="9" text-anchor="middle" fill="#222" font-weight="bold" stroke="#000" stroke-width="0.18">*</text>
<text x="117.5" y="116.8" font-size="9" text-anchor="middle" fill="#222" font-weight="bold" stroke="#000" stroke-width="0.18">*</text>
<text x="181.3" y="16.3" font-size="9" text-anchor="middle" fill="#222" font-weight="bold" stroke="#000" stroke-width="0.18">*</text>
<text x="94.7" y="213.1" font-size="8.0" text-anchor="start" fill="#000" font-weight="bold" stroke="#000" stroke-width="0.18">WT</text>
<text x="121.19999999999999" y="213.1" font-size="8.0" text-anchor="start" fill="#000" font-weight="bold" stroke="#000" stroke-width="0.18">KO</text>
<text x="205" y="17.2" font-size="11.5" text-anchor="start" fill="#000" font-weight="bold" stroke="#000" stroke-width="0.18">B</text>
<text x="283.2" y="9.1" font-size="8.0" text-anchor="middle" fill="#000" font-weight="bold" stroke="#000" stroke-width="0.18">d 40</text>
<text x="215.5" y="54.5" font-size="8.0" text-anchor="start" fill="#000" font-weight="bold" stroke="#000" stroke-width="0.18">WT</text>
<text x="216" y="163" font-size="8.0" text-anchor="start" fill="#000" font-weight="bold" stroke="#000" stroke-width="0.18">KO</text>
<text x="227.2" y="102.2" font-size="8.0" text-anchor="middle" fill="#000" font-weight="bold" stroke="#000" stroke-width="0.18" transform="rotate(-90 227.2 102.2)">CD4</text>
<text x="280.6" y="212.6" font-size="8.1" text-anchor="middle" fill="#000" font-weight="bold" stroke="#000" stroke-width="0.18">T-bet</text>
<text x="242.5" y="23.0" font-size="8.3" text-anchor="start" fill="#000" font-weight="bold" stroke="#000" stroke-width="0.18">11.8</text>
<text x="327.4" y="23.0" font-size="8.3" text-anchor="end" fill="#000" font-weight="bold" stroke="#000" stroke-width="0.18">3.0</text>
<text x="241.6" y="99.2" font-size="8.3" text-anchor="start" fill="#000" font-weight="bold" stroke="#000" stroke-width="0.18">69.9</text>
<text x="330.3" y="99.3" font-size="8.3" text-anchor="end" fill="#000" font-weight="bold" stroke="#000" stroke-width="0.18">15.3</text>
<text x="241.5" y="116.9" font-size="8.3" text-anchor="start" fill="#000" font-weight="bold" stroke="#000" stroke-width="0.18">8.3</text>
<text x="328.7" y="116.9" font-size="8.3" text-anchor="end" fill="#000" font-weight="bold" stroke="#000" stroke-width="0.18">11.9</text>
<text x="241.6" y="193" font-size="8.3" text-anchor="start" fill="#000" font-weight="bold" stroke="#000" stroke-width="0.18">56.7</text>
<text x="329.3" y="194.0" font-size="8.3" text-anchor="end" fill="#000" font-weight="bold" stroke="#000" stroke-width="0.18">23.2</text>
<text x="6.1" y="235.8" font-size="11.5" text-anchor="start" fill="#000" font-weight="bold" stroke="#000" stroke-width="0.18">E</text>
<text x="84.5" y="226.2" font-size="8.0" text-anchor="middle" fill="#000" font-weight="bold" stroke="#000" stroke-width="0.18">d 20</text>
<text x="13.4" y="274.2" font-size="8.0" text-anchor="start" fill="#000" font-weight="bold" stroke="#000" stroke-width="0.18">WT</text>
<text x="13.6" y="382.6" font-size="8.0" text-anchor="start" fill="#000" font-weight="bold" stroke="#000" stroke-width="0.18">KO</text>
<text x="25.3" y="323.3" font-size="8.0" text-anchor="middle" fill="#000" font-weight="bold" stroke="#000" stroke-width="0.18" transform="rotate(-90 25.3 323.3)">CD4</text>
<text x="77.9" y="432.7" font-size="8.1" text-anchor="middle" fill="#000" font-weight="bold" stroke="#000" stroke-width="0.18">T-bet</text>
<text x="40.3" y="236.9" font-size="8.3" text-anchor="start" fill="#000" font-weight="bold" stroke="#000" stroke-width="0.18">3.4</text>
<text x="127.4" y="236.9" font-size="8.3" text-anchor="end" fill="#000" font-weight="bold" stroke="#000" stroke-width="0.18">3.4</text>
<text x="40.6" y="311.2" font-size="8.3" text-anchor="start" fill="#000" font-weight="bold" stroke="#000" stroke-width="0.18">78.3</text>
<text x="127.4" y="311.7" font-size="8.3" text-anchor="end" fill="#000" font-weight="bold" stroke="#000" stroke-width="0.18">14.9</text>
<text x="39.8" y="334.9" font-size="8.3" text-anchor="start" fill="#000" font-weight="bold" stroke="#000" stroke-width="0.18">18.4</text>
<text x="126.4" y="334.9" font-size="8.3" text-anchor="end" fill="#000" font-weight="bold" stroke="#000" stroke-width="0.18">40.9</text>
<text x="39.4" y="409.9" font-size="8.3" text-anchor="start" fill="#000" font-weight="bold" stroke="#000" stroke-width="0.18">32.2</text>
<text x="125.9" y="409.9" font-size="8.3" text-anchor="end" fill="#000" font-weight="bold" stroke="#000" stroke-width="0.18">8.5</text>
<text x="350" y="17.3" font-size="10.5" text-anchor="start" fill="#000" font-weight="bold" stroke="#000" stroke-width="0.18">C</text>
<text x="381.5" y="14.3" font-size="8.3" text-anchor="end" fill="#2a2a2a" stroke="#2a2a2a" stroke-width="0.22">4.0</text>
<text x="381.5" y="40.4" font-size="8.3" text-anchor="end" fill="#2a2a2a" stroke="#2a2a2a" stroke-width="0.22">3.0</text>
<text x="381.5" y="66.6" font-size="8.3" text-anchor="end" fill="#2a2a2a" stroke="#2a2a2a" stroke-width="0.22">2.0</text>
<text x="381.5" y="92.9" font-size="8.3" text-anchor="end" fill="#2a2a2a" stroke="#2a2a2a" stroke-width="0.22">1.0</text>
<text x="381.5" y="119.1" font-size="8.3" text-anchor="end" fill="#2a2a2a" stroke="#2a2a2a" stroke-width="0.22">0</text>
<text x="406" y="129.1" font-size="7.9" text-anchor="middle" fill="#000" font-weight="bold" stroke="#000" stroke-width="0.18">d 40</text>
<text x="366.6" y="64.0" font-size="7.7" text-anchor="middle" fill="#000" font-weight="bold" stroke="#000" stroke-width="0.18" transform="rotate(-90 366.6 64.0)">% T-bet<tspan dy="-3.0" dx="0.9" font-size="7">+</tspan><tspan dy="3.0" dx="2.3"> </tspan>CD4<tspan dy="-3.0" dx="0.9" font-size="7">+</tspan><tspan dy="3.0" dx="2.3"> </tspan>cells</text>
<text x="403" y="22.8" font-size="9.4" text-anchor="middle" fill="#222" font-weight="bold" stroke="#000" stroke-width="0.18">***</text>
<text x="435" y="17.3" font-size="10.5" text-anchor="start" fill="#000" font-weight="bold" stroke="#000" stroke-width="0.18">D</text>
<text x="470.9" y="13.9" font-size="8.2" text-anchor="end" fill="#2a2a2a" stroke="#2a2a2a" stroke-width="0.22">7</text>
<text x="470.9" y="28.9" font-size="8.2" text-anchor="end" fill="#2a2a2a" stroke="#2a2a2a" stroke-width="0.22">6</text>
<text x="470.9" y="43.9" font-size="8.2" text-anchor="end" fill="#2a2a2a" stroke="#2a2a2a" stroke-width="0.22">5</text>
<text x="470.9" y="59.0" font-size="8.2" text-anchor="end" fill="#2a2a2a" stroke="#2a2a2a" stroke-width="0.22">4</text>
<text x="470.9" y="74.1" font-size="8.2" text-anchor="end" fill="#2a2a2a" stroke="#2a2a2a" stroke-width="0.22">3</text>
<text x="470.9" y="89.3" font-size="8.2" text-anchor="end" fill="#2a2a2a" stroke="#2a2a2a" stroke-width="0.22">2</text>
<text x="470.9" y="104.4" font-size="8.2" text-anchor="end" fill="#2a2a2a" stroke="#2a2a2a" stroke-width="0.22">1</text>
<text x="470.9" y="119.4" font-size="8.2" text-anchor="end" fill="#2a2a2a" stroke="#2a2a2a" stroke-width="0.22">0</text>
<text x="497" y="129.7" font-size="7.9" text-anchor="middle" fill="#000" font-weight="bold" stroke="#000" stroke-width="0.18">d 40</text>
<text x="462.2" y="65.9" font-size="7.6" text-anchor="middle" fill="#000" font-weight="bold" stroke="#000" stroke-width="0.18" transform="rotate(-90 462.2 65.9)">% CD43i<tspan dy="-3.0" dx="0.9" font-size="7">+</tspan><tspan dy="3.0" dx="2.3"> </tspan>CD4<tspan dy="-3.0" dx="0.9" font-size="7">+</tspan><tspan dy="3.0" dx="2.3"> </tspan>cells</text>
<text x="492.1" y="18.4" font-size="9" text-anchor="middle" fill="#222" font-weight="bold" stroke="#000" stroke-width="0.18">*</text>
<text x="431.9" y="141.0" font-size="8.0" text-anchor="start" fill="#000" font-weight="bold" stroke="#000" stroke-width="0.18">WT</text>
<text x="458.0" y="141.0" font-size="8.0" text-anchor="start" fill="#000" font-weight="bold" stroke="#000" stroke-width="0.18">KO</text>
<text x="142" y="236.3" font-size="10.5" text-anchor="start" fill="#000" font-weight="bold" stroke="#000" stroke-width="0.18">F</text>
<text x="172.4" y="236.9" font-size="8.3" text-anchor="end" fill="#2a2a2a" stroke="#2a2a2a" stroke-width="0.22">14</text>
<text x="172.4" y="252.1" font-size="8.3" text-anchor="end" fill="#2a2a2a" stroke="#2a2a2a" stroke-width="0.22">12</text>
<text x="172.4" y="267.3" font-size="8.3" text-anchor="end" fill="#2a2a2a" stroke="#2a2a2a" stroke-width="0.22">10</text>
<text x="172.4" y="282.5" font-size="8.3" text-anchor="end" fill="#2a2a2a" stroke="#2a2a2a" stroke-width="0.22">8</text>
<text x="172.4" y="297.8" font-size="8.3" text-anchor="end" fill="#2a2a2a" stroke="#2a2a2a" stroke-width="0.22">6</text>
<text x="172.4" y="313.0" font-size="8.3" text-anchor="end" fill="#2a2a2a" stroke="#2a2a2a" stroke-width="0.22">4</text>
<text x="172.4" y="328.2" font-size="8.3" text-anchor="end" fill="#2a2a2a" stroke="#2a2a2a" stroke-width="0.22">2</text>
<text x="172.4" y="343.4" font-size="8.3" text-anchor="end" fill="#2a2a2a" stroke="#2a2a2a" stroke-width="0.22">0</text>
<text x="197.3" y="354.4" font-size="7.9" text-anchor="middle" fill="#000" font-weight="bold" stroke="#000" stroke-width="0.18">d 20</text>
<text x="162.2" y="286.4" font-size="7.7" text-anchor="middle" fill="#000" font-weight="bold" stroke="#000" stroke-width="0.18" transform="rotate(-90 162.2 286.4)">% CD4<tspan dy="-3.0" dx="0.9" font-size="7">+</tspan><tspan dy="3.0" dx="2.3"> </tspan>cells</text>
<text x="248.1" y="245.8" font-size="8.3" text-anchor="end" fill="#2a2a2a" stroke="#2a2a2a" stroke-width="0.22">8</text>
<text x="248.1" y="270.2" font-size="8.3" text-anchor="end" fill="#2a2a2a" stroke="#2a2a2a" stroke-width="0.22">6</text>
<text x="248.1" y="294.6" font-size="8.3" text-anchor="end" fill="#2a2a2a" stroke="#2a2a2a" stroke-width="0.22">4</text>
<text x="248.1" y="319.0" font-size="8.3" text-anchor="end" fill="#2a2a2a" stroke="#2a2a2a" stroke-width="0.22">2</text>
<text x="248.1" y="343.4" font-size="8.3" text-anchor="end" fill="#2a2a2a" stroke="#2a2a2a" stroke-width="0.22">0</text>
<text x="272.5" y="354.4" font-size="7.9" text-anchor="middle" fill="#000" font-weight="bold" stroke="#000" stroke-width="0.18">d 20</text>
<text x="240.4" y="280.0" font-size="7.7" text-anchor="middle" fill="#000" font-weight="bold" stroke="#000" stroke-width="0.18" transform="rotate(-90 240.4 280.0)">% CD4<tspan dy="-3.0" dx="0.9" font-size="7">+</tspan><tspan dy="3.0" dx="2.3"> </tspan>T-bet<tspan dy="-3.0" dx="0.9" font-size="7">+</tspan><tspan dy="3.0" dx="2.3"> </tspan>cells</text>
<text x="271.4" y="247.6" font-size="8.8" text-anchor="middle" fill="#222" font-weight="bold" stroke="#000" stroke-width="0.18">**</text>
<text x="216.29999999999998" y="365.0" font-size="8.0" text-anchor="start" fill="#000" font-weight="bold" stroke="#000" stroke-width="0.18">WT</text>
<text x="242.6" y="365.0" font-size="8.0" text-anchor="start" fill="#000" font-weight="bold" stroke="#000" stroke-width="0.18">KO</text>
<text x="320" y="236.8" font-size="11.5" text-anchor="start" fill="#000" font-weight="bold" stroke="#000" stroke-width="0.18">G</text>
<text x="359.35" y="235.5" font-size="8.5" text-anchor="end" fill="#2a2a2a" stroke="#2a2a2a" stroke-width="0.22">0.12</text>
<text x="359.35" y="253.4" font-size="8.5" text-anchor="end" fill="#2a2a2a" stroke="#2a2a2a" stroke-width="0.22">0.10</text>
<text x="359.35" y="271.4" font-size="8.5" text-anchor="end" fill="#2a2a2a" stroke="#2a2a2a" stroke-width="0.22">0.08</text>
<text x="359.35" y="289.3" font-size="8.5" text-anchor="end" fill="#2a2a2a" stroke="#2a2a2a" stroke-width="0.22">0.06</text>
<text x="359.35" y="307.3" font-size="8.5" text-anchor="end" fill="#2a2a2a" stroke="#2a2a2a" stroke-width="0.22">0.04</text>
<text x="359.35" y="325.2" font-size="8.5" text-anchor="end" fill="#2a2a2a" stroke="#2a2a2a" stroke-width="0.22">0.02</text>
<text x="359.35" y="343.1" font-size="8.5" text-anchor="end" fill="#2a2a2a" stroke="#2a2a2a" stroke-width="0.22">0</text>
<text x="383.3" y="354.4" font-size="7.9" text-anchor="middle" fill="#000" font-weight="bold" stroke="#000" stroke-width="0.18">d 20</text>
<text x="338.6" y="287.1" font-size="7.7" text-anchor="middle" fill="#000" font-weight="bold" stroke="#000" stroke-width="0.18" transform="rotate(-90 338.6 287.1)">% FOXP3<tspan dy="-3.0" dx="0.9" font-size="7">+</tspan><tspan dy="3.0" dx="2.3"> </tspan>CD4<tspan dy="-3.0" dx="0.9" font-size="7">+</tspan><tspan dy="3.0" dx="2.3"> </tspan>cells</text>
<text x="438.05" y="251.0" font-size="8.3" text-anchor="end" fill="#2a2a2a" stroke="#2a2a2a" stroke-width="0.22">1.2</text>
<text x="438.05" y="281.8" font-size="8.3" text-anchor="end" fill="#2a2a2a" stroke="#2a2a2a" stroke-width="0.22">0.8</text>
<text x="438.05" y="312.8" font-size="8.3" text-anchor="end" fill="#2a2a2a" stroke="#2a2a2a" stroke-width="0.22">0.4</text>
<text x="438.05" y="343.6" font-size="8.3" text-anchor="end" fill="#2a2a2a" stroke="#2a2a2a" stroke-width="0.22">0</text>
<text x="463" y="354.4" font-size="7.9" text-anchor="middle" fill="#000" font-weight="bold" stroke="#000" stroke-width="0.18">d 40</text>
<text x="423.2" y="282.1" font-size="7.7" text-anchor="middle" fill="#000" font-weight="bold" stroke="#000" stroke-width="0.18" transform="rotate(-90 423.2 282.1)">% FOXP3<tspan dy="-3.0" dx="0.9" font-size="7">+</tspan><tspan dy="3.0" dx="2.3"> </tspan>CD4<tspan dy="-3.0" dx="0.9" font-size="7">+</tspan><tspan dy="3.0" dx="2.3"> </tspan>cells</text>
<text x="407.5" y="365.0" font-size="8.0" text-anchor="start" fill="#000" font-weight="bold" stroke="#000" stroke-width="0.18">WT</text>
<text x="433.2" y="365.0" font-size="8.0" text-anchor="start" fill="#000" font-weight="bold" stroke="#000" stroke-width="0.18">KO</text>
</g>
</svg>
</body></html>
